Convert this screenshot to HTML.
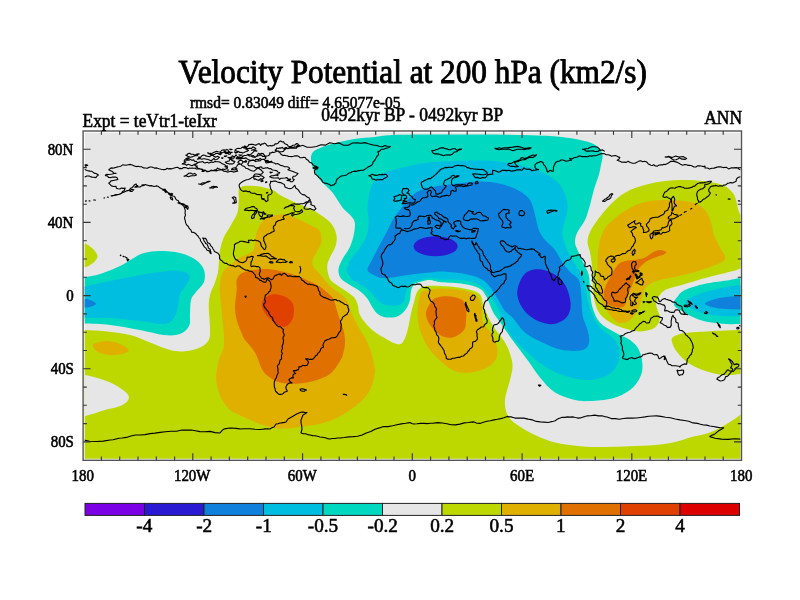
<!DOCTYPE html>
<html><head><meta charset="utf-8"><title>Velocity Potential at 200 hPa</title>
<style>html,body{margin:0;padding:0;background:#fff;width:800px;height:600px;overflow:hidden}svg{display:block}</style>
</head><body>
<svg width="800" height="600" viewBox="0 0 800 600">
<defs><clipPath id="m"><rect x="84.7" y="132.7" width="655.7" height="326.1"/></clipPath></defs>
<g clip-path="url(#m)">
<rect x="84" y="132" width="658" height="328" fill="#e6e6e6"/>
<path d="M240 187.5C242.7 185.2 249.6 185.6 255 186C260.4 186.4 268.3 188.5 272.5 190C276.7 191.5 276.2 192.9 280 195C283.8 197.1 289.6 200 295 202.5C300.4 205 307.1 207.1 312.5 210C317.9 212.9 323.9 217 327.5 220C331.1 223 332.5 225.1 334 228C335.5 230.9 336.5 234.2 336.7 237.3C336.9 240.4 336.4 243.4 335.3 246.7C334.2 250 331.3 254.2 330 257.3C328.7 260.4 327.6 262.6 327.3 265.3C327 268 327.4 270.8 328 273.3C328.6 275.8 329.2 278.3 331 280.5C332.8 282.7 336.2 284.5 339 286.5C341.8 288.5 345.3 290.5 348 292.5C350.7 294.5 353.3 296.2 355 298.5C356.7 300.8 357.2 303.4 358 306C358.8 308.6 358.3 311.2 359.5 314C360.7 316.8 362.6 319.6 365 322.5C367.4 325.4 370.6 328.8 373.8 331.2C376.9 333.8 380.6 335.6 383.8 337.5C386.9 339.4 390 341.4 392.5 342.5C395 343.6 397.1 344.4 398.8 344.4C400.4 344.4 401.2 344.1 402.5 342.5C403.8 340.9 405.2 337.9 406.2 335C407.3 332.1 407.9 328.8 408.8 325C409.6 321.2 410.4 316.3 411.2 312.5C412.1 308.7 413 305.5 414 302C415 298.5 415.7 293.9 417.5 291.2C419.3 288.6 421 287.1 425 286.2C429 285.4 434.8 285.6 441.2 286C447.7 286.4 457.4 287.1 463.8 288.4C470.1 289.7 476.1 290.8 479.5 294C482.9 297.2 481.8 302.3 484 307.5C486.2 312.7 489 319.2 492.5 325C496 330.8 501.9 337.2 505 342.5C508.1 347.8 509.8 352.8 511 357C512.2 361.2 512.7 363.7 512.5 367.5C512.3 371.3 511.2 374.6 510 380C508.8 385.4 505.4 394.2 505 400C504.6 405.8 505.4 410.8 507.5 415C509.6 419.2 512.9 421.7 517.5 425C522.1 428.3 528.8 432.1 535 435C541.2 437.9 547.5 440.6 555 442.5C562.5 444.4 571.7 445.5 580 446.2C588.3 447 596.7 447 605 447C613.3 447 621.7 446.6 630 446.2C638.3 445.9 647.5 445.7 655 445C662.5 444.3 669.2 443.2 675 442C680.8 440.8 684.2 439.1 690 437.5C695.8 435.9 704.2 434.6 710 432.5C715.8 430.4 720.8 427.3 725 425C729.2 422.7 731.7 420.9 735 418.8C738.3 416.6 740.8 413.1 745 412L760 412L760 470L70 470L70 330L83.8 330C89.6 330.2 97.3 330.4 105 331.2C112.7 332.1 122.5 333.1 130 335C137.5 336.9 143.3 340 150 342.5C156.7 345 164.2 348.5 170 350C175.8 351.5 180 351.7 185 351.2C190 350.8 196 349.4 200 347.5C204 345.6 207.1 343.3 208.8 340C210.4 336.7 210 332.9 210 327.5C210 322.1 208.8 312.9 208.8 307.5C208.8 302.1 209 299.2 210 295C211 290.8 213.7 286.3 215 282.5C216.3 278.7 217.3 275.8 218 272C218.7 268.2 218.7 263.7 219 260C219.3 256.3 219.2 253.8 220 250C220.8 246.2 221.9 241.7 223.8 237.5C225.6 233.3 228.7 229.2 231 225C233.3 220.8 236.2 216.7 237.5 212.5C238.8 208.3 238.3 204.2 238.8 200C239.2 195.8 237.3 189.8 240 187.5Z" fill="#bcd800"/>
<path d="M70 240L83 242.5C86.7 243.8 89.6 245.8 92 248C94.4 250.2 97.3 253.5 97.5 256C97.7 258.5 95.4 261 93 263C90.6 265 86.8 267 83 268L70 269L70 240Z" fill="#bcd800"/>
<path d="M630 190C637.1 186.7 646.7 184.2 655 182.5C663.3 180.8 671.7 180.2 680 180C688.3 179.8 697.9 180.4 705 181.2C712.1 182.1 717.9 183.1 722.5 185C727.1 186.9 730.2 190 732.5 192.5C734.8 195 734.9 196.8 736 200C737.1 203.2 737.5 208.3 739 212C740.5 215.7 743.5 217.3 745 222C746.5 226.7 747.5 233.3 748 240C748.5 246.7 749.2 257.3 748 262C746.8 266.7 744 266.7 741 268.3C738 269.9 734 270.6 730 271.7C726 272.8 720.9 273.9 716.7 275C712.5 276.1 709.5 276.8 705 278C700.5 279.2 694.2 281.2 690 282.5C685.8 283.8 683.9 284.4 680 285.5C676.1 286.6 670 287.8 666.7 289.3C663.4 290.8 661.7 292.5 660 294.7C658.3 296.9 656.7 299.9 656.2 302.5C655.8 305.1 656.9 307.4 657.5 310C658.1 312.6 660.4 315.1 660 318C659.6 320.9 657.9 325.3 655 327.5C652.1 329.7 646.7 330.8 642.5 331.2C638.3 331.7 635 331.2 630 330C625 328.8 617.5 326.4 612.5 323.8C607.5 321.1 602.9 317.5 600 314C597.1 310.5 596.2 306.5 595 302.5C593.8 298.5 593.4 294.2 593 290C592.6 285.8 592.7 281.7 592.5 277.5C592.3 273.3 592.3 269.2 591.9 265C591.5 260.8 590.7 256.3 590 252.5C589.3 248.7 587.5 245.4 587.5 242C587.5 238.6 588.3 235.7 590 232C591.7 228.3 593.8 224.9 597.5 220C601.2 215.1 607.1 207.5 612.5 202.5C617.9 197.5 622.9 193.3 630 190Z" fill="#bcd800"/>
<path d="M672.5 337.5C674.5 335.5 678.8 334 685 333C691.2 332 700.6 331.8 710 331.2C719.4 330.8 733.2 330.2 741.5 330L760 330L760 374L741.5 374C735.2 374.2 729 375.7 722.5 375C716 374.3 708.3 372.1 702.5 370C696.7 367.9 691.7 365.4 687.5 362.5C683.3 359.6 679.9 355.4 677.5 352.5C675.1 349.6 673.8 347.5 673 345C672.2 342.5 670.5 339.5 672.5 337.5Z" fill="#bcd800"/>
<path d="M272.5 215.6C276 214.7 280.4 213.7 285 214.4C289.6 215.1 295.5 218.1 300 220C304.5 221.9 309 224.5 312 226C315 227.5 316.6 227.8 318 229C319.4 230.2 320.1 231 320.7 233.3C321.2 235.6 322 239.6 321.3 242.7C320.6 245.8 318.1 249.1 316.7 252C315.3 254.9 313.3 257.6 312.7 260C312.1 262.4 312.2 264.5 313.3 266.7C314.4 268.9 316.5 270.1 319.3 273.3C322.1 276.5 326.6 282.6 330 286C333.4 289.4 337.2 291.2 340 293.5C342.8 295.8 345 296.8 346.9 300C348.8 303.2 349.3 307.9 351.2 312.5C353.2 317.1 356.2 322.9 358.8 327.5C361.2 332.1 364.2 335.8 366.2 340C368.3 344.2 370 348.8 371.2 352.5C372.5 356.2 372.9 358.7 373.5 362C374.1 365.3 375.6 367.8 375 372.5C374.4 377.2 372.5 385 370 390C367.5 395 364.6 398.3 360 402.5C355.4 406.7 348.3 411.7 342.5 415C336.7 418.3 331.2 420.6 325 422.5C318.8 424.4 312.5 425.2 305 426.2C297.5 427.3 287.1 429 280 428.8C272.9 428.5 268.3 426.9 262.5 425C256.7 423.1 250.4 420 245 417.5C239.6 415 234 413.2 230 410C226 406.8 223.2 402.2 221 398C218.8 393.8 217.8 388.8 217 385C216.2 381.2 216 379.2 216.2 375C216.5 370.8 217.5 365 218.8 360C220 355 223.4 351.7 224 345C224.6 338.3 223.2 328.3 222.5 320C221.8 311.7 220.4 301.2 220 295C219.6 288.8 219.5 286.3 220 282.5C220.5 278.7 221.3 274.9 223 272C224.7 269.1 227.2 267.4 230 265C232.8 262.6 236.2 259.8 240 257.5C243.8 255.2 250.5 253.9 253 251C255.5 248.1 254.2 243.5 255 240C255.8 236.5 256 233.3 257.5 230C259 226.7 261.2 222.4 263.8 220C266.2 217.6 269 216.5 272.5 215.6Z" fill="#e0b000"/>
<path d="M92.5 345C92.8 343.3 97.1 342.6 100 342C102.9 341.4 106.7 340.9 110 341.2C113.3 341.6 116.9 342.5 120 344C123.1 345.5 128.4 348.3 128.8 350C129.1 351.7 125.1 353.2 122 354C118.9 354.8 114 355.3 110 355C106 354.7 100.9 353.7 98 352C95.1 350.3 92.2 346.7 92.5 345Z" fill="#e0b000"/>
<path d="M420 295C421.3 290.9 422 291.7 425.5 290.6C429 289.5 434.9 288.4 441.2 288.4C447.6 288.4 457.8 289.3 463.8 290.6C469.8 291.9 474.2 293.4 477.2 296.2C480.2 299.1 480.8 303.2 481.8 307.5C482.7 311.8 481.2 317.4 483 322C484.8 326.6 490.1 330.3 492.5 335C494.9 339.7 497.2 345.5 497.5 350C497.8 354.5 496.9 358.6 494 362C491.1 365.4 485.7 368.8 480 370.5C474.3 372.2 465.8 373.4 460 372.5C454.2 371.6 450 368.8 445 365C440 361.2 434 355.3 430 350C426 344.7 423.1 338.8 421 333C418.9 327.2 417.7 321.3 417.5 315C417.3 308.7 418.7 299.1 420 295Z" fill="#e0b000"/>
<path d="M622.5 212.5C627.9 209.2 635 204.6 642.5 202.5C650 200.4 659.2 200 667.5 200C675.8 200 686.2 200.8 692.5 202.5C698.8 204.2 701.9 206.7 705 210C708.1 213.3 709.5 218.3 711 222.5C712.5 226.7 712.5 230.8 714 235C715.5 239.2 718.1 243.7 720 247.5C721.9 251.3 725.3 255.1 725.3 257.7C725.3 260.3 722.5 261.4 720 263C717.5 264.6 714.2 265.5 710 267C705.8 268.5 700.4 270.5 695 272C689.6 273.5 682.5 275.1 677.5 276.2C672.5 277.4 669.2 277.7 665 278.8C660.8 279.8 655.8 280.8 652.5 282.5C649.2 284.2 646.7 286.5 645 288.8C643.3 291 643.3 293.8 642.5 296.2C641.7 298.8 640.8 301.5 640 303.8C639.2 306 639.2 307.3 637.5 310C635.8 312.7 633.2 317.9 630 320C626.8 322.1 622 324.2 618 322.5C614 320.8 609 313.8 606.2 310C603.5 306.2 602.5 303.3 601.2 300C600 296.7 599.4 293.8 598.8 290C598.1 286.2 597.7 281.7 597.5 277.5C597.3 273.3 597.4 269.2 597.5 265C597.6 260.8 597.6 256.7 598 252.5C598.4 248.3 599 243.8 600 240C601 236.2 602.3 232.9 604 230C605.7 227.1 606.9 225.4 610 222.5C613.1 219.6 617.1 215.8 622.5 212.5Z" fill="#e0b000"/>
<path d="M236.7 280C237.5 277.2 238.9 275 241.7 273.3C244.5 271.6 248.6 270.7 253.3 270C258 269.3 265 268.9 270 269.2C275 269.5 279.1 270.7 283.3 271.7C287.5 272.7 291.1 273.6 295 275C298.9 276.4 302.5 278.1 306.7 280C310.9 281.9 316.1 284.2 320 286.7C323.9 289.2 327.7 292.8 330 295C332.3 297.2 332.3 296.5 333.8 300C335.2 303.5 337.1 311 338.8 316.2C340.4 321.5 342.7 326.7 343.8 331.2C344.8 335.8 345.1 340 345 343.8C344.9 347.5 343.8 351 343.1 353.8C342.4 356.5 342.8 356.6 340.6 360C338.4 363.4 334.7 370.5 330 374C325.3 377.5 318.3 379.6 312.5 381.2C306.7 382.9 300.4 383.5 295 383.8C289.6 384 284.2 383.5 280 382.5C275.8 381.5 272.9 379.6 270 377.5C267.1 375.4 265 374.2 262.5 370C260 365.8 257.9 357.5 255 352.5C252.1 347.5 247.2 343.2 245 340C242.8 336.8 243.1 336.6 241.7 333.3C240.3 330 237.8 324.4 236.7 320C235.6 315.6 235 311.7 235 306.7C235 301.7 236.4 294.4 236.7 290C237 285.6 235.9 282.8 236.7 280Z" fill="#e07000"/>
<path d="M427.8 307.5C429.2 304.8 431.1 300.4 434.5 298.5C437.9 296.6 443.5 296.1 448 296.2C452.5 296.4 458.5 297.7 461.5 299.6C464.5 301.5 465.2 304.1 466 307.5C466.8 310.9 466.3 316.2 466 320C465.7 323.8 466.2 327.1 464 330C461.8 332.9 456.5 336.7 452.5 337.5C448.5 338.3 443.8 337.1 440 335C436.2 332.9 432.3 328.3 430 325C427.7 321.7 426.4 317.9 426 315C425.6 312.1 426.3 310.2 427.8 307.5Z" fill="#e07000"/>
<path d="M666.2 251.9C665.6 251.2 662.3 249.9 660 250C657.7 250.1 655 251.2 652.5 252.5C650 253.8 647.5 256.4 645 257.5C642.5 258.6 640.4 258.9 637.5 259.4C634.6 259.9 630.4 260 627.5 260.6C624.6 261.2 622.1 261.7 620 263.1C617.9 264.5 616.7 266.4 615 268.8C613.3 271.1 611.7 274.4 610 277.5C608.3 280.6 606 284.6 605 287.5C604 290.4 603.5 292.5 603.8 295C604 297.5 604.8 300.6 606.2 302.5C607.7 304.4 610.2 305.4 612.5 306.2C614.8 307.1 617.9 307.7 620 307.5C622.1 307.3 623.8 306.9 625 305C626.2 303.1 626.5 299.2 627.5 296.2C628.5 293.3 630 290.6 631.2 287.5C632.5 284.4 633.8 280.6 635 277.5C636.2 274.4 637.1 271.2 638.8 268.8C640.4 266.2 642.3 264.4 645 262.5C647.7 260.6 651.9 258.9 655 257.5C658.1 256.1 661.9 255.3 663.8 254.4C665.6 253.5 666.9 252.6 666.2 251.9Z" fill="#e07000"/>
<path d="M261.7 303.3C262 300.5 264.5 298.2 266.7 296.7C268.9 295.2 271.7 294.1 275 294.2C278.3 294.3 283.6 295.7 286.7 297.5C289.8 299.3 292.2 301.8 293.3 305C294.4 308.2 294.1 313.4 293.3 316.7C292.5 320 290.2 323.3 288.3 325C286.4 326.7 284.2 327.2 281.7 326.7C279.2 326.1 276.1 323.9 273.3 321.7C270.5 319.5 266.9 316.4 265 313.3C263.1 310.2 261.4 306.1 261.7 303.3Z" fill="#e04000"/>
<path d="M337.5 142.5C343.1 141.1 349.8 139.7 356 138.8C362.2 137.8 367.7 137.6 375 136.9C382.3 136.2 382.1 135.2 400 134.8C417.9 134.4 459.6 134.5 482.5 134.6C505.4 134.7 523.8 135 537.5 135.5C551.2 136 556.8 136.4 565 137.4C573.2 138.4 581.5 139.9 587 141.5C592.5 143.1 595.4 144.8 598 147C600.6 149.2 602 152 602.5 155C603 158 601.6 161.7 601 165C600.4 168.3 600 170.8 598.8 175C597.5 179.2 595.2 185 593.8 190C592.3 195 591.5 200 590 205C588.5 210 587.2 215.3 585 220C582.8 224.7 578.7 229.2 577 233C575.3 236.8 574.9 239.7 575 242.5C575.1 245.3 576.2 246.8 577.5 250C578.8 253.2 581.1 257.8 583 262C584.9 266.2 587.6 270.3 588.8 275C589.9 279.7 589.4 284.6 590 290C590.6 295.4 590.8 302.1 592.5 307.5C594.2 312.9 596.2 318.3 600 322.5C603.8 326.7 610 329.6 615 332.5C620 335.4 626 337.1 630 340C634 342.9 636.9 345.8 639 350C641.1 354.2 642.3 360.4 642.5 365C642.7 369.6 642.1 373.3 640 377.5C637.9 381.7 634.7 386.5 630 390C625.3 393.5 618.7 396.7 612 398.5C605.3 400.3 596.2 400.8 590 401C583.8 401.2 580.8 401.4 575 400C569.2 398.6 560.8 396.2 555 392.5C549.2 388.8 544.6 382.9 540 377.5C535.4 372.1 532.1 366.2 527.5 360C522.9 353.8 517.1 346.3 512.5 340C507.9 333.7 503.2 326.7 500 322C496.8 317.3 495.3 316.3 493 312C490.7 307.7 488.5 300.2 486.2 296.2C484 292.3 483.2 290.5 479.5 288.4C475.8 286.3 470.1 284.9 463.8 283.9C457.4 282.9 446.9 282.9 441.2 282.3C435.6 281.7 433.1 280.2 430 280C426.9 279.8 425 280.6 422.5 281.2C420 281.9 416.9 282.3 415 283.8C413.1 285.2 412.1 287.3 411.2 290C410.4 292.7 410.8 296.9 410 300C409.2 303.1 407.9 306.2 406.2 308.8C404.6 311.2 402.3 313.5 400 315C397.7 316.5 395.2 317.2 392.5 317.5C389.8 317.8 386.2 317.5 383.8 316.9C381.2 316.3 379.4 315.3 377.5 313.8C375.6 312.2 374.2 310 372.5 307.5C370.8 305 369.6 301.5 367.5 298.8C365.4 296 362.9 293.5 360 291.2C357.1 289 353.1 287.1 350 285C346.9 282.9 343.2 281.2 341.2 278.8C339.3 276.2 338.3 273.1 338.4 270C338.5 266.9 340.1 263.9 342 260C343.9 256.1 348 251.1 350 246.7C352 242.2 353.3 237.8 354 233.3C354.7 228.9 355.9 224.3 354 220C352.1 215.7 346.1 212.1 342.5 207.5C338.9 202.9 336.2 197.1 332.5 192.5C328.8 187.9 323.1 183.8 320 180C316.9 176.2 315.2 173.3 313.8 170C312.2 166.7 311.1 163 311 160C310.9 157 311.1 154.2 313 152C314.9 149.8 318.4 148.6 322.5 147C326.6 145.4 331.9 143.9 337.5 142.5Z" fill="#00d8c0"/>
<path d="M70 277.5L83 277.5C88 276.9 93.8 275.9 100 274C106.2 272.1 114.7 268.5 120 266C125.3 263.5 128 261.2 132 259C136 256.8 139.3 254.3 144 253C148.7 251.7 154 251 160 251C166 251 174 251.5 180 253C186 254.5 192 257.2 196 260C200 262.8 202.7 266.3 204 270C205.3 273.7 205.3 278.3 204 282C202.7 285.7 198.2 289 196 292C193.8 295 192 296.3 191 300C190 303.7 190.3 309.7 190 314C189.7 318.3 190.7 322.7 189 326C187.3 329.3 184.2 332.5 180 334C175.8 335.5 170.7 335.7 164 335C157.3 334.3 149 331.7 140 330C131 328.3 119.5 326.1 110 325C100.5 323.9 89.7 323.8 83 323.5L70 323.5L70 277.5Z" fill="#00d8c0"/>
<path d="M673.8 303.8C673.4 301.4 676.1 298.3 678 296C679.9 293.7 680.5 292 685 290C689.5 288 697.5 285.4 705 283.8C712.5 282.1 723.9 281 730 280C736.1 279 736.5 278.3 741.5 278L760 278L760 324L741.5 324C735.2 324 729.4 324.4 722.5 323.8C715.6 323.1 707.1 322.3 700 320C692.9 317.7 684.4 312.7 680 310C675.6 307.3 674.1 306.1 673.8 303.8Z" fill="#00d8c0"/>
<path d="M480 160.5C492.5 160.5 496.7 161.3 505 162.5C513.3 163.7 522.9 165.4 530 167.5C537.1 169.6 542.5 172.1 547.5 175C552.5 177.9 556.9 181.2 560 185C563.1 188.8 564.8 193.3 566 197.5C567.2 201.7 567.9 205.4 567.5 210C567.1 214.6 564.6 220.8 563.8 225C562.9 229.2 562.1 231.2 562.5 235C562.9 238.8 564.3 243.3 566 247.5C567.7 251.7 570.2 255.9 572.5 260C574.8 264.1 577.9 268.2 580 272C582.1 275.8 583.8 277.8 585 282.5C586.2 287.2 586.2 294.6 587.5 300C588.8 305.4 590.4 310.4 592.5 315C594.6 319.6 596.7 323.8 600 327.5C603.3 331.2 609.4 334.2 612.5 337.5C615.6 340.8 617.8 343.3 618.8 347.5C619.7 351.7 619.8 357.9 618 362.5C616.2 367.1 613.1 372.1 608 375C602.9 377.9 595.1 380 587.5 380C579.9 380 570 377.5 562.5 375C555 372.5 548.3 368.8 542.5 365C536.7 361.2 532.5 357.1 527.5 352.5C522.5 347.9 516.7 342.9 512.5 337.5C508.3 332.1 505 325 502.5 320C500 315 499.8 311.8 497.5 307.5C495.2 303.2 491.5 297.8 488.5 294C485.5 290.2 483.6 287.2 479.5 285C475.4 282.8 470.1 281.4 463.8 280.5C457.4 279.6 446.9 279.8 441.2 279.4C435.6 279 433.1 278.1 430 278.1C426.9 278.1 425.4 278.7 422.5 279.4C419.6 280.1 415 281.1 412.5 282.5C410 283.9 408.6 285.6 407.5 287.5C406.4 289.4 406.2 291.5 405.6 293.8C405 296 404.9 299.4 403.8 301.2C402.6 303.1 401 304.3 398.8 305C396.5 305.7 392.7 305.8 390 305.6C387.3 305.4 384.8 304.9 382.5 303.8C380.2 302.6 378.3 300.8 376.2 298.8C374.2 296.7 372.5 293.5 370 291.2C367.5 289 364.4 287.1 361.2 285C358.1 282.9 353.5 280.8 351.2 278.8C349 276.7 348.2 274.3 347.5 272.5C346.8 270.7 346.4 270.3 347 268C347.6 265.7 349 262.2 351.3 258.7C353.6 255.1 358 250.9 360.7 246.7C363.4 242.5 366 237.8 367.3 233.3C368.6 228.9 368.7 224.3 368.7 220C368.7 215.7 367.1 212.9 367.5 207.5C367.9 202.1 368.9 192.9 371 187.5C373.1 182.1 375.6 178.1 380 175C384.4 171.9 389.2 170.8 397.5 168.8C405.8 166.7 416.2 163.9 430 162.5C443.8 161.1 467.5 160.5 480 160.5Z" fill="#00bedf"/>
<path d="M70 287L83 287C88 286.3 93.8 284.3 100 283C106.2 281.7 113.3 280.3 120 279C126.7 277.7 133.3 276.2 140 275C146.7 273.8 153.3 272.7 160 272C166.7 271.3 175.2 270.5 180 271C184.8 271.5 187.7 273.2 189 275C190.3 276.8 189.5 278.8 188 282C186.5 285.2 181.7 290 180 294C178.3 298 179 302 178 306C177 310 176.3 315 174 318C171.7 321 169.7 323.5 164 324C158.3 324.5 149 322 140 321C131 320 119.5 318.5 110 318C100.5 317.5 89.7 318 83 318L70 318L70 287Z" fill="#00bedf"/>
<path d="M685 302.5C685 299.4 693.6 296.2 700 293.8C706.4 291.3 716.4 289.1 723.3 287.7C730.2 286.3 735.4 285.7 741.5 285.3L760 285.3L760 316L741.5 316C735.2 316 729.4 316.6 722.5 316C715.6 315.4 706.2 314.8 700 312.5C693.8 310.2 685 305.6 685 302.5Z" fill="#00bedf"/>
<path d="M480 181.5C487.5 181.5 493.8 182.3 500 183.8C506.2 185.2 512.5 187.3 517.5 190C522.5 192.7 527.1 195.8 530 200C532.9 204.2 533.5 210 535 215C536.5 220 537.1 225.8 538.8 230C540.4 234.2 542.3 236.7 545 240C547.7 243.3 552.1 246.2 555 250C557.9 253.8 560 258.8 562.5 262.5C565 266.2 567.3 269.1 570 272C572.7 274.9 576.9 276.2 578.8 280C580.6 283.8 580.6 289.2 581.2 295C581.9 300.8 581.5 309.2 582.5 315C583.5 320.8 586.4 325.4 587.5 330C588.6 334.6 589.8 339.2 589 342.5C588.2 345.8 586.9 348.8 582.5 350C578.1 351.2 569.2 351.2 562.5 350C555.8 348.8 548.8 345.4 542.5 342.5C536.2 339.6 530 336.7 525 332.5C520 328.3 516 321.2 512.5 317.5C509 313.8 506.8 313.2 504.2 310C501.8 306.8 500.1 302.7 497.5 298.5C494.9 294.3 491.5 288.4 488.5 285C485.5 281.6 483.6 280.1 479.5 278.2C475.4 276.4 470.1 274.9 463.8 273.8C457.4 272.6 446.9 271.7 441.2 271.5C435.6 271.3 434 272.1 430 272.5C426 272.9 421.7 273.2 417.5 273.8C413.3 274.3 409.2 275 405 275.6C400.8 276.2 396.2 277.1 392.5 277.5C388.8 277.9 385.6 278.5 382.5 278.1C379.4 277.7 376.2 276.4 373.8 275C371.2 273.6 367.9 272.3 367.5 270C367.1 267.7 369.8 264.5 371.3 261.3C372.8 258.1 374.2 255.4 376.7 250.7C379.1 246 383.3 238.4 386 233.3C388.7 228.2 390.4 223.9 392.7 220C395 216.1 397.1 213.8 400 210C402.9 206.2 405.8 201 410 197.5C414.2 194 417.5 191 425 188.8C432.5 186.5 445.8 185 455 183.8C464.2 182.5 472.5 181.5 480 181.5Z" fill="#0f80dc"/>
<path d="M70 298.8L83 298.8C86.3 299 87.8 299.2 90 300C92.2 300.8 96 302.6 96 303.8C96 304.9 92.2 306.4 90 307C87.8 307.6 86.3 307.4 83 307.5L70 307.5L70 298.8Z" fill="#0f80dc"/>
<path d="M705 303.8C705 302.6 709.1 301 712 300C714.9 299 717.6 298.2 722.5 297.5C727.4 296.8 735.2 296.2 741.5 296L760 296L760 309.5L741.5 309.5C735.2 309.4 727.4 309.2 722.5 308.8C717.6 308.3 714.9 307.8 712 307C709.1 306.2 705 304.9 705 303.8Z" fill="#0f80dc"/>
<path d="M535.3 269.3C538.6 268.9 542.1 269.3 545.8 270.5C549.5 271.7 554.2 273.8 557.5 276.3C560.8 278.8 563.6 282.2 565.6 285.7C567.6 289.2 568.9 293.4 569.7 297.3C570.5 301.2 571 305.5 570.3 309C569.6 312.5 568.3 315.8 565.6 318.3C562.9 320.8 558.3 323.5 554 324.1C549.7 324.7 544.3 323.4 540 321.8C535.7 320.2 531.6 317.7 528.3 314.8C525 311.9 522.1 308 520.2 304.3C518.4 300.6 517.2 296.6 517.2 292.7C517.2 288.8 518.7 284.3 520.2 281C521.7 277.7 523.5 274.8 526 272.8C528.5 270.9 532 269.7 535.3 269.3Z" fill="#2a1ad2"/>
<ellipse cx="435.6" cy="246.3" rx="22" ry="10" fill="#2a1ad2"/>
<path d="M70 375L83.8 375C88.8 375.6 94.4 376.9 100 378.8C105.6 380.6 112.7 383.3 117.5 386.2C122.3 389.2 127.9 393.1 128.8 396.2C129.6 399.4 126.5 402.7 122.5 405C118.5 407.3 111.5 408.1 105 410C98.5 411.9 89.6 415.2 83.8 416.2L70 416.2L70 375Z" fill="#e6e6e6"/>
<path d="M262.3 198.5L264.2 198.7L263.3 199.2L262.3 198.5M110.9 195.7L113.3 195.6M106.9 197L108.7 197.4M103.6 198.1L105 197.8M93.2 200L94.6 200L95.9 200.3M88.6 200.7L90.4 201.1M84.9 201.1L86.8 200.9M737.9 200.9L739.3 200.8L740.6 201.4M727.8 198.9L729.2 199.1L730.6 199M105 175.4L106.7 174.4L108.7 174.5L110.5 174.3L112.4 174L114.2 173.5L116 173.4L113.9 173.1L112.4 171.6L110.5 170.7L108.7 169.8L109.9 168.8L111.1 167.9L112.7 168.1L114.2 167.9L115.5 167.5L116.9 167.1L118.3 166.8L119.7 166.5L121.3 165.9L122.7 164.9L124.4 165L126.1 165.2L128.2 164.8L130.3 164.4L132.3 165.1L134.3 165.9L136.1 166.6L138 166.2L139.8 166.8L141.6 166.8L143.3 167.9L145.2 168L147.2 168.3L148.9 167.4L150.3 167L151.8 167L153.1 167.6L154.4 168.1L156.8 167.9L159 168.7L161.2 169.3L163.6 169.6L165.6 169.5L167.2 168.3L168.6 168.9L170 168.6L171.4 168.9L172.7 168.5L175 167.7L177.3 167.2L178.5 167.7L179.3 168.7L180.6 168.4L181.9 168.7L183.5 167.5L185.5 167.6L186.9 168.1L188.2 168.7L189.5 168L191 168.3L192.4 168L193.8 168.3L195.3 168.2L196.5 169L198.2 169L199.8 168.6L201.2 169.5L202.9 169.8L202 171.4L203.5 171.5L204.8 170.8L206.2 170.8L207.5 171.6L209.1 171.4L210.6 170.6L212.2 170.7L213.9 170.5L216.2 170.9L218.4 170.3L220.3 169.7L222.2 170L223.8 171.2L225.8 171.4L227.3 172.1L229 171.7L230.6 171.3L232.2 171.6L233.5 172.1L234.9 171.7L236.3 171.4L237.7 171.2L236.6 169.5L235.8 167.6L236.8 166.2L237.7 164.8L239.7 163.9L241.2 164.4L242.2 165.8L244.5 166.5L245.9 168.3L247.9 168.7L249.5 169.8L251.7 170.8L254.1 171.2L255.9 169.6L257.8 168.1L259.7 169L261.4 170.3L262.3 171.3L263.3 172.2L262.4 173.2L261.4 174.2L259.2 174.4L257 174L255 174L253.8 175.3L253.2 177.1L251.7 177.6L250.5 178.6L248.6 179.5L246.6 179.7L244.8 180.4L243.1 181.3L241.7 182.2L240.4 183.1L239.4 184.3L239.1 185.9L239.8 188.2L241.2 190.1L243.1 191.4L244.7 191.1L246.3 190.9L247.9 191.7L249.5 191.4L250.6 192.7L252.3 193.2L254.7 193.2L256.9 194.5L259.3 194.6L261.8 195L261.4 196.9L261.8 198.9L264.2 199.6L265.4 200.5L266 201.8L268 200.5L267.9 198.2L267.8 195.9L269 194.7L270.6 194.5L271.5 193.5L272.2 192.3L271.7 190.3L270.6 188.6L270.2 186.5L269.7 184.4L270.5 183L270.6 181.3L272.2 181.6L273.8 181.1L275.5 181L277 181.7L278.7 182.4L280.6 182.6L282.4 183.6L284.3 184.4L284.7 185.8L285.2 187.2L286.6 187.7L287.9 188.2L289.8 188.8L291.9 188.2L293.4 186.8L294.7 185.3L295.3 186.6L295.7 188L296.8 188.8L298 189.5L298.9 190.9L299.8 192.3L301.1 193.6L302.6 194.6L304.7 194.9L306.2 196.3L307.5 197.2L309 197.8L309.6 199L310.4 200.1L309 200.4L308.1 201.6L306 202L304.4 203.2L302.6 203.8L300.8 203.8L299.2 204.1L297.6 204.1L295.9 204.3L294.3 203.8L292 204.3L289.8 205.4L288.2 206.8L286.1 206.9L284.3 208.4L286.1 207.3L287.9 206.4L289.7 205.6L291.6 205.6L293.3 205.6L294.7 206.4L293.4 208.2L294.3 209.2L294.3 210.6L295.6 211.5L297.1 211.8L298.5 211.5L299.8 211.8L300.6 210.6L301.7 209.6L302.6 211.7L300.8 212.9L299 213.7L297.1 214.2L295.8 214.5L294.6 214.5L293.4 215.1L292.5 216L291.6 215.1L292.6 213.5L294.3 212.8L293 212.9L291.6 212.9L289.8 213.7L287.9 214.4L285.9 215L283.9 215.7L283 217.5L284.3 218.8L283.4 219.5L281.9 219.5L280.6 220.3L278.7 220.5L277 221.5L275.9 222.5L275.5 223.9L275.1 225.2L273.5 226.3L273.3 227.9L274 229.4L274.2 231L272.9 231.8L271.5 232.3L270.2 233.2L268.7 233.8L267.1 234.3L266 235.6L264.3 236.4L263.4 238L263.9 239.3L263.6 240.7L264.6 242L264.9 243.5L265.8 245L266 246.8L265.3 249.2L264.2 249.5L262.7 247.7L261.7 246.7L261.1 245.3L260.8 243.9L260.5 242.6L259.4 241.6L258.1 240.7L256.5 240.6L255 240L253.2 240.7L251.4 240L249.9 240.3L248.4 240.4L249 242.6L247.4 242.4L245.9 242L244.1 241.6L242.2 241.3L240.2 241.2L238.6 242.4L236.3 243.3L234.4 244.8L234.5 247.1L234.3 248.5L234 249.9L233.5 252.1L233.4 254.5L234 256.3L234.7 258L235.8 259.6L237.5 260.1L238.6 261.4L240.4 262.3L242.7 262.7L244.8 261.8L246 260.8L246.8 259.4L247.2 257L249.4 257.2L251.4 256.3L253.4 256.8L252.5 258.3L252.3 259.9L251.7 261.1L251 262.1L251 263.9L250.8 265.6L251.4 266.7L253.1 266L255 266.3L256.4 266.6L257.8 266.5L259.2 267L260.1 268.2L260 269.1L260.3 271.5L259.2 273.7L259.6 275.9L260.8 276.9L261.4 278.2L263 278.5L264.2 279.5L265.5 278.6L266.9 278.1L268.4 277.9L269.7 278.6L271.5 279.7L273.3 278.6L274.2 276.4L275.4 275.3L277 275.1L278.7 274.1L280.6 274L281.5 275.5L282.6 274L284.3 273.3L286.3 274.7L287.9 276.4L289.7 275.7L291.6 276.2L293.4 276.8L295.3 276.4L297.3 276.6L299.3 276.4L300.9 277.9L301.7 280.1L303.7 281.1L305.3 282.8L306.8 283.6L308.1 284.6L309.4 284.1L310.8 284.6L312.2 284.8L313.6 285L314.9 285.5L316.3 286L317.6 286.8L318.1 288.3L318.5 290.5L320 292.3L319.8 294.1L320.9 295.6L322.3 296.5L323.6 297.4L325.8 297.9L327.7 298.8L329.7 299.7L331.8 300.2L333.3 299.9L334.7 299.6L336.2 299.8L337.3 300.7L339.3 300.8L341 302L342.9 302.9L344.6 304.2L346.4 304.7L347.9 305.7L347.9 307.6L348.7 309.3L348.8 310.7L348.3 312.1L347.3 313.1L347.1 314.5L345.8 314.9L344.6 315.7L342.7 317.1L341.9 319.4L341 320.3L340.4 321.9L340.9 323.5L341.4 325.1L341 326.7L341.1 328.2L340.8 329.7L340.4 331.2L339.2 332.2L338.2 334L337.3 335.8L335.6 337.4L333.3 337.7L331.7 337.8L330.3 338.5L328.9 339.3L327.3 339.5L326.2 340.4L324.8 340.7L324.3 342L323.6 343.2L323 345.2L323.4 347.2L322 347.7L320.9 348.7L320.3 350.6L319 352.3L317.7 353.4L317.1 355L315.6 355.8L314.7 357.2L313.5 358.7L311.9 359.4L309.5 359.4L307.6 358.7L305.5 358.7L307.5 360.2L308.6 362.4L307.8 363.8L307.2 365.3L305 365.7L302.9 365.3L301.1 366.6L298.9 366.9L298.8 368.4L298.4 369.9L297 369.9L296 370.7L294.7 370.6L293.4 370.6L294.2 372.3L295.6 373.5L293.4 374.3L292.8 376.1L293.4 377.9L291.5 377.9L289.8 378.8L288.9 379.7L290.1 381.7L292 383L290.2 382.8L288.5 383.4L286.9 385L285.9 387.1L286.1 388.9L286.9 390L287.2 391.3L285.7 391.7L284.3 392.2L283.5 393.2L282.5 394L280.6 394.4L278.5 394.1L277 392.5L275.4 391L275.1 388.9L274.3 386.7L274.2 384.3L274.3 382L275.1 379.7L276.4 377.6L277 375.2L278.2 373L277.9 370.6L278 369.2L277.8 367.9L277.4 366.5L277.9 365.1L279.4 363.6L279.7 361.5L280.2 359.9L281.5 359L281.6 357.5L281.4 356L281.8 354.6L282.4 353.3L281.5 352L281.5 350.5L282.5 348.5L282.1 346.3L282.9 344.3L283.4 342.2L283.6 340.6L283.1 339L283.1 337.3L284.1 335.8L284.1 334.2L283.3 332.7L283 331L283.7 329.4L282.4 328.8L281.5 327.6L280.1 326.7L278.5 326.6L277.2 325.6L276.1 324.5L275.2 323.5L274.6 322.3L273.7 321.2L272.8 320.3L272.9 318.6L272 317.1L270.6 316.2L269.7 314.8L268.9 313.6L268.8 312.2L267.9 311.2L266.9 310.2L265.5 308.4L264.2 306.6L263.6 304.2L264.8 303.1L265.6 301.8L265.2 300.6L264.4 299.6L265.1 297.4L265.1 295.9L266 294.7L267.2 293.9L268.2 292.9L269 291.7L270.2 291L270.2 289.5L270.9 288.3L271.2 286L270.6 283.7L270.6 282.8L269.9 281.4L268.7 280.2L266.9 279.3L266.5 280.6L266 281.9L265.1 282.3L263.1 281.9L261.4 280.6L259.6 280.1L258.7 278.8L257.4 278.1L255.4 277.3L255.6 276.4L255 274.6L254 273.8L253.2 272.7L252.3 271.8L251 271.3L249.5 271.3L247.9 270.1L245.9 270.2L244.5 269.6L243.1 268.7L241.2 267.5L239.5 266L237.5 265.8L235.8 266.9L234.4 266.5L233.2 265.5L231.7 265.8L230.3 265.1L228.3 264.7L226.7 263.4L225.3 263.4L224 262.8L222.9 261.9L222.1 260.9L220.4 259.8L219.4 258.1L219.7 256.2L219 254.5L218 253.3L216.6 252.6L215.4 252.1L214.3 251.3L213.9 250L213 249L212.4 247.4L211.1 246.2L210.3 245.1L209.9 243.8L208.7 243.2L207.5 242.6L206.8 240.4L205.6 238.4L204.1 238.3L202.5 238L203.6 239.2L204 240.8L205 242L205.6 243.5L207 244.1L207.6 245.4L208.2 246.7L208.4 248.1L210.1 249.3L210.6 251.3L211.1 253.7L210 252.8L209.7 251.3L208.5 250.6L207.1 250.3L206.4 249L205.7 247.9L204.5 247.1L203.8 245.9L202.9 244.4L201.7 242.5L200.5 240.7L200.3 239.2L199.2 238L198 236L196.7 234.8L195.6 233.4L193.8 232.4L191.7 232.3L191 230.2L189.4 228.7L188.3 226.5L186.8 225.2L185.9 223.4L185.4 222L185.3 220.6L184.7 219L184.6 217.3L185.5 215.1L185 213L185.3 210.9L184.9 209.1L184.2 207.3L186.4 207.6L187.7 209.3L188.3 207.8L187.7 206L185.5 205.4L184 204.9L182.8 203.8L180.9 203.2L179.1 202.3L178.2 200.5L176.6 200L175.5 198.7L175.2 197.3L174.2 196.3L172.9 196L171.8 195.4L170.4 194.8L169.1 194.1L167.8 192.5L166.3 191L164.8 189.5L162.7 189.2L161.2 188.5L159.9 187.7L158.9 187L157.9 186.3L156.6 185.9L155.3 186.2L153.9 186.5L152.6 186L151.3 185.6L149.9 185.9L147.6 185.2L145.3 184.6L143.4 185.2L141.6 185.9L140 187L138 186.8L136.3 187.1L134.7 187.3L136.2 186.2L138 185.9L136.7 185.2L136.1 183.9L134.5 184.8L133.4 186.2L132.3 187.6L130.7 188.2L129.8 189.4L128.8 190.4L126.4 190.9L124.3 192.1L121.9 192.9L119.7 193.9L118.4 194.5L117 195L115.6 195.2L114.2 195.4L112.6 195.6L111.1 195.9L112.4 196L113.6 195.4L114.8 194.9L116 194.6L117.5 194.6L118.9 194.5L120.3 194L121.5 193.2L122.5 191.4L124.3 190.4L124.8 189.3L125.2 188.1L123.3 188.4L121.5 188.1L119.8 189L118.1 188.8L116.4 188.2L116 186.4L113.7 186.5L111.4 185.9L110.5 184.8L108.7 183.1L110 182.2L110.9 180.9L112.5 180.6L114.2 180.2L116 179.9L117.9 179.5L116.9 177.6L115.5 177L114 177.1L112.5 177.1L111.1 177.6L108.7 177.5L107.2 175.9L105 175.4M234 151.9L235.8 152.3L237.7 152.2L235.8 153.1L234 151.9M581.9 270.9L582.2 272.3L582.4 273.7L581.7 275.5L581.4 274.1L581.5 272.7L581.9 270.9M519.3 211.5L520.5 210.6L522.1 210.6L523.8 211.6L524.8 213.3L523.9 215.1L522.1 216L520.8 215.4L519.3 215.1L519 213.3L519.3 211.5M209.3 188.1L210.7 187.5L211.9 186.7L213.3 186.4L214.8 186.6L216.2 186.5L217.5 187.2L215.1 187.1L213 188.2L211.2 187.7L209.3 188.1M619.9 335.8L621.1 337.4L621 339.4L621.4 341.3L620.8 343.2L621.5 344.4L622 345.8L622.5 347.2L622.3 348.7L622.4 350L623.2 351.2L623.5 352.5L623.9 353.8L623.7 355.6L622.7 357.1L622.7 358.5L625 359L627.2 359.6L628.3 359L629.3 358.2L630.6 358L631.8 357.6L633.3 358.4L635 358.7L636.6 358.1L638.2 357.6L639.5 356.8L641 356.9L642.1 356L642.8 354.7L644.2 354.7L645.5 354.1L646.9 353.8L648.3 353.4L650.1 353L651.9 353.2L652.9 354L654 354.6L655.2 354.7L656.5 354.5L657.6 355.2L658.2 356.4L658.5 357.7L659.2 358.7L661.1 357.8L662.3 356.7L663.8 356L664.6 357.7L664.2 359.6L665.6 358.7L665.1 357.4L664.7 356L665.7 358.2L666.6 360.5L667.5 362.4L668.4 364.2L670.4 364.6L672 365.8L673.9 365.8L675.7 365.7L677.5 366L678.9 366.2L679.9 367.1L680.8 365.8L682.1 364.9L684.3 363.9L686.7 364.2L686.8 362.8L687 361.5L687.3 359.1L688.9 357.4L689.6 355.6L691.2 354.5L691.6 352.9L692.3 351.4L692.4 349.5L693.3 347.7L692.9 345.4L692.3 343.2L691.6 341.8L690.9 340.4L689.8 338.3L688.1 336.8L687 335.7L685.8 334.9L685.1 333.4L683.9 332.2L682.1 330.6L679.7 330.2L679.1 329L678.9 327.6L678.2 326.3L678.4 324.9L678.1 323L676.8 322.6L675.7 321.8L675.9 319.7L674.8 317.9L673.5 316.8L673 315.2L672 316.7L671.7 318.5L671.2 320.7L671.1 323L671.3 325.4L670 327.4L668.7 327.2L667.5 327.6L666 325.7L663.8 324.9L662.1 323.6L660.1 322.7L660.8 321.5L661.7 320.5L662.3 319.3L662.5 317.9L660.7 317.4L659.4 317.1L658.3 316.3L656.9 316L655.6 316.3L653.7 316.3L652.6 317.5L651 318.1L650.1 320.4L649.4 322.7L647.9 322.9L646.4 323L645.3 321.8L643.7 321.2L642.3 321.9L641.3 323L639.4 324.1L638.2 325.8L636.9 326.9L635.8 328.2L634.9 329.1L634.5 330.4L632.1 331L630 332.2L628.1 332.5L626.3 333.3L625 333.7L624.2 334.8L623 335.2L621.7 335.5L620.5 336.8L619.9 335.8M244.1 152.4L242.6 153.1L241.2 152.3L239.7 152.5L238.6 151.5L236.7 150.9L234.9 150.2L236.7 148.7L238.2 148.2L239.7 148.5L241.2 148.2L242.2 147.1L244.4 148.2L246.8 147.8L245.9 149.3L247.2 149.9L248.6 150.2L246.8 151.5L245.3 151.7L244.1 152.4M248.6 161.2L250.1 161L251.3 160.3L252.8 160L254.1 160.6L255.6 161.6L257.3 161L258.9 160.9L260.5 160.8L261.3 159.5L262.8 159.5L264.3 159.5L265.1 160.8L266.4 160.6L267.8 160.4L268.8 161.4L269.7 162.5L271.5 162.1L273.3 162.8L274.8 163.2L275.9 164.1L277.4 163.6L278.8 164.3L280.5 165.4L282.5 165.8L284.7 166.7L287 166.7L288.6 167.2L289.8 168.5L287.9 169.8L289.3 170.3L290.7 170.7L293 171.5L295.3 172.5L296.7 173L298 173.6L296.2 175.3L295 176.3L293.4 176.2L292.5 177.6L293 179L294.3 179.5L293.4 180.7L292.3 181.8L290.7 181.8L289.3 180.1L287 180.4L289.2 180.7L290.7 179.1L288.4 179.4L287 177.6L284.8 178L282.5 178.2L280.8 178.3L279.7 179.5L278.3 177.7L276.1 178L273.8 178L271.5 177.6L269.7 176.7L271.4 175.8L273.3 175.8L275.6 175L277.9 175.8L277 174L278.7 174L279.7 172.5L278.1 172.2L277 170.9L274.7 170.2L272.4 170L270.6 168.5L269 168.6L267.8 167.6L266.5 168L265.1 167.9L263.8 168.4L262.3 168.3L261.6 167.1L260.3 166.7L259.3 167.9L257.8 167.6L256.3 168L255 167.2L253.9 166L252.3 165.9L250.5 165.8L248.6 165.8L247.7 163.9L248.8 162.8L248.6 161.2M602.2 201.2L604.4 201.4L605.9 200.7L607.1 199.6L609.2 199.1L610.8 197.8L611.3 195.7L612.8 194.1L611.7 193.6L609.8 194.8L608.9 196.8L607.4 197.5L606.2 198.7L604.6 199.2L603.5 200.5L602.2 201.2M621.7 310.4L623.9 311L623 311.7L621.7 310.4M546.8 210.9L548.1 210.4L549.5 210.4L551.3 210.1L553.2 210.2L555 210.2L556.8 210.6L556.8 211.3L555.4 211L554 210.5L552.8 211.3L551.3 211.7L549.9 212.2L548.6 212.9L547.7 213.5L547.1 212.3L546.8 210.9M183.7 164.1L185.4 164L186.4 165.4L188.2 164.3L190.1 165L192 165.7L193.8 164.8L195 164L196.5 163.9L197.4 162.5L196.3 161.3L194.7 161.5L193.8 159.9L191.8 160.2L190.1 159.3L188.9 160.3L187.4 160.3L186 160.2L184.6 159.7L184.1 161.2L185.9 162.1L184 163L182.2 163.9L183.7 164.1M185.5 158.8L187.5 159.6L189.2 158.4L187.4 157.9L185.5 158.8M164.5 189.9L165.8 190.4L166 192.6L164.9 191.5L164.5 189.9M227.6 157L228.8 157.8L230.2 157.4L231.6 157.1L232.2 155.7L233.4 156.5L234.9 156.2L234 158.1L231.7 157.9L229.4 158.4L227.6 157M223.9 156.1L225.3 156L226.7 155.7L225.8 156.6L223.9 156.1M266.9 192.3L267.8 192.8L266.4 193.2L266.9 192.3M463.5 219.5L465.4 220.3L467.2 220.6L469 220.4L469.9 219.5L471 218.9L472.3 219.1L473.6 218.8L475 219L476.3 218.8L478.2 219.6L480 220.6L481.8 221L483.7 220.6L486 220.4L488.2 219.7L488.4 217.7L486.8 217.2L485.5 216.2L483.3 215.8L481.8 214.2L480.9 212.8L479.1 212.2L477.2 212.8L475.4 214.2L473.6 214.2L471.8 212.8L473.6 211.5L471.2 211.5L469 210.4L467.6 211.8L466.5 213.3L465.6 214.2L464.6 215.1L464.1 216.5L463.3 217.7L463.5 219.5M207.5 152.4L209.3 153.4L211.3 154.2L212.9 152.8L214.8 151.9L216.5 151.2L218.3 151.8L220.1 152.2L221.2 153.7L219.5 154.1L217.9 153.4L216.1 153.2L214.8 154.4L213.4 154.6L212 154.7L210.5 154.6L209.3 153.7L207.5 152.4M611.7 292.9L612.8 292L613.9 292.8L615.3 292.9L616.5 292.4L617.7 292L618.3 290.8L619 289.8L620.3 288.5L621.7 287.4L622.8 285.7L624.5 284.6L625.2 283.5L626.3 282.8L627.6 284.6L629.1 285.2L630 286.5L628.1 287.7L627.6 290.1L628.1 291.9L628.1 293.8L627.2 295.6L626.7 297.3L625.4 298.4L625.7 300.2L625.4 302L623.6 302.8L621.7 302.9L620.4 302.1L619 301.5L617.2 300.8L615.3 301.1L613.9 300.9L613.9 299.6L613.5 298.4L612.5 297L611.7 295.6L611.6 294.2L611.7 292.9M695.1 305.5L696.4 306.5L697.5 307.9L696.7 308.2L695.4 306.6L695.1 305.5M401.9 204.2L403.8 203.3L405.9 203.6L408.1 202.9L410.5 202.9L412.8 203.2L414.9 202L415.4 199.6L414 199.3L412.9 198.3L412 196.8L410.8 195.9L409.6 195L408.7 193.4L406.8 193.2L408.1 191.9L409 190.4L408.2 189.1L406.8 188.4L405 188.8L403.2 188.4L402.3 190.4L401.9 192.3L403.2 194.1L403.2 195.4L404.5 195.1L405.9 195.2L406.5 196.5L406.8 198.1L405.5 198.5L404.1 198.3L405 199.6L404 200.3L402.8 200.9L404.8 201.1L406.8 201.4L404.6 202L402.9 202.6L401.9 204.2M642.8 301.5L645 301.8L643.7 302.6L642.8 301.5M221.2 157.7L223 157.9L222.1 158.4L221.2 157.7M265.1 161.5L267 161.2L268.4 162.7L270.1 162.3L271.5 161.2L272.4 162.5L271.5 161.4L270.1 161.5L269 162.1L267.8 162.6L266.1 162.9L265.1 161.5M498.3 214.2L499.2 213.3L500.2 212.5L501.1 211.6L501.9 210.6L503.6 209.4L505.6 209.6L507.4 209.7L509.3 210L508.8 211.7L509.3 213.3L507.3 213.3L505.6 214.2L506.2 215.4L505.9 216.7L506.5 217.9L507.4 218.8L508 220L509.3 220.6L510.3 221.4L511.1 222.4L510.4 223.6L509.3 224.3L510.6 225.6L511.1 227.4L509.8 227.9L508.3 227.8L506.9 227.6L505.6 228.3L503.9 227.4L501.9 227L501.9 225.2L502.9 223.7L502.9 221.9L502.2 220.4L501 219.2L500.2 218L499.2 217L499 215.5L498.3 214.2M162.7 189.2L164 189.3L165.4 189.2L164.9 190.4L163 190.3L162.7 189.2M83.1 169.8L84.5 169.4L85.9 169.9L87.2 170.4L88.6 170.9L90.1 171.1L91.6 171.2L92.9 172.1L94.1 173.1L96 173.5L97.7 174.5L98.6 174.9L96.8 176.2L95.9 177.6L94.1 177.2L92.2 177.1L90.8 176.9L89.6 176.1L88.2 176L86.8 176L85 176.9L83.1 176.7M260.5 180.6L262 180L263.3 181.1L261.4 181.7L260.5 180.6M715.6 194.5L716.8 195.4M235.8 157.9L237.7 158.2L239 156.8L240.5 157.4L242.2 157.3L241.3 159L239 159L236.7 158.8L235.8 157.9M428 217.1L429.5 217.1L429.2 218.5L429.7 219.9L428.2 219.5L428 217.1M455.3 230.7L456.6 230.5L457.9 230.8L459.1 231.4L460.4 231L458.8 231.7L457.1 231.8L455.3 230.7M257 255.6L258.5 255.8L259.8 255.2L261 254.4L262.3 254.1L264.1 253.6L266 253.5L267.7 253.2L269.2 254L270.5 255L271.5 256.3L272.8 256.8L274 257.5L275.3 258.2L276.6 258.7L275.1 258.9L273.6 258.6L272 258.6L270.6 259.2L269.5 258.3L268.2 257.7L267.1 256.8L266 255.9L264.2 256.3L262.3 256.1L260.5 255.6L258.7 255.6L257 255.6M471.4 231.6L473.3 230.6L475.4 230.5L474.3 231.8L472.1 232.3L471.4 231.6M236.7 157L239 157L240.8 158.3L242.3 156.7L244.1 155.5L246 155.5L247.7 154.8L249.3 156.2L251.4 155.7L253.5 155.6L255 157.1L256.8 156.2L258.7 155.7L260 154.9L261.5 155.1L262.5 156.4L264.2 156.2L266 157.9L264.9 159.1L263.3 159.3L261.4 159.5L260.1 158.3L258.7 159.6L256.9 159.2L255.4 159.6L254.9 161L253.7 160.1L252.3 160.4L249.9 160.2L247.7 159.3L246.1 157.9L244.1 158.4L241.8 158.2L239.5 157.9L237.9 157.9L236.7 157M312.6 168.3L314.5 167L315.8 167.5L317.2 167.6L315.4 168.9L314.1 168.1L312.6 168.3M223.9 151.5L225.3 151.5L226.3 152.5L227.8 152.4L228.5 151.1L229.4 152.6L227.6 153L225.8 152.8L223.9 151.5M248.6 155.7L250.8 156L252.7 157L255.1 157.4L256.9 155.9L257.7 154.6L258.5 153.3L260 154.1L261.5 153.4L262.9 153.5L263.9 154.5L264.7 155.7L266 156.1L268 155.8L269.7 154.8L269.7 152.9L271.2 153L272.3 152.1L273.7 152.5L275.1 152L276.9 151.3L278.8 151.1L276.9 151L275.1 150.2L276.3 149.3L276.7 147.9L278.1 148.4L279.5 147.9L281 148.1L282.3 147.3L283.2 148.4L284.3 149.3L284.8 147.9L286.3 147.5L287.4 148.6L288.9 148.4L289.9 147.3L291.4 146.9L292.9 147.4L294.3 146.9L295.9 147L297 145.8L298.4 145.4L299.8 145.6L298.6 145.1L297.8 143.9L296.3 143.6L295.3 144.7L294.1 145.3L292.8 145.3L291.8 146.1L290.6 146.5L289.2 146.5L288 146L287.4 144.8L286.1 144.2L284.4 143.6L283.8 141.8L282.1 142L280.7 140.9L279.2 141.6L278.3 143L276.8 143.9L275.1 143.8L274.5 145.1L273.1 145.3L271.9 146.1L270.6 145.5L269.2 145.7L267.9 146.1L266.7 145.2L266 144L264.6 143.1L263.1 143.9L261.5 144.1L260.6 145.5L259.7 143.9L257.9 143.9L256.6 144.9L255 145.1L253.1 144.4L251.1 144.4L248.8 144.6L247.7 146.5L246.1 147L244.9 145.8L243.8 146.8L242.2 147.1L244.1 147.2L245.9 147.3L247.5 148.8L249.5 148.2L251.6 148.4L252.9 146.8L254.6 147.7L255.9 148.9L253.7 149.6L251.4 150.2L252.8 149.8L254.2 150.2L255.6 150.6L256.9 151.1L254.7 150.7L253.2 152.2L251.4 153.9L249.6 154.8L247.7 154.4L248.6 155.7M259.8 219.3L261.9 218.6L264.2 219.2L265.7 217.7L267.8 217.3L266 217.6L264.2 217.9L262.3 218.1L260.5 218.8L259.8 219.3M402.1 229.8L400.4 228.1L398.2 228.1L396 227.9L395.8 226.6L395.7 225.2L396.4 223.9L396.4 222.4L396.1 220.6L396 218.8L395.3 217L396.6 216.4L397.7 215.7L399.4 216.5L401.3 216.4L403.1 215.9L405 216.2L407.3 216.5L409.6 216L410.3 214.3L410.1 212.4L409.6 210.9L408.7 209.6L407.4 209.8L406.1 209.4L405.1 208.7L404.1 207.8L405.5 207.8L406.9 207.8L408.1 207.1L409.4 206.5L409.4 204.7L410.9 204.8L412.3 205.3L413.7 204.6L415.1 203.8L416.9 202.3L418.2 201.7L419.6 201.4L420.8 200.2L421.5 198.7L423.2 197.8L425.1 197.8L426.4 197.1L427.9 196.8L427.6 195.5L427.9 194.1L427.1 192.3L428.6 190.8L430.6 190.3L431.5 192.3L430.7 193.5L430.6 195L431.5 196L432.4 196.8L434.2 196.2L436.1 195.9L437.5 196.5L438.8 197.2L440.4 197.2L441.6 196.3L443.9 195.9L446.2 195.4L447.6 195.4L448.9 195.9L450 195.2L450.7 194.1L450.9 192.7L450.7 191.4L452.6 190.3L454.3 191.3L456.2 191L456.2 189L455.3 187.3L457.1 186.1L459.3 185.9L461.5 186L463.5 186.8L465.4 186.3L467.2 185.9L465.9 185.1L464.4 185L462.1 184.5L459.9 185.1L458.5 184.7L457 184.7L455.5 184.9L454.4 185.9L452.7 185.4L451.6 184L451.4 182.2L451.6 180.4L452.5 178.6L454.3 177.7L456.2 177.3L458 176.7L459 175.8L457.5 175.7L456.2 176.1L454.7 176.2L453.5 175.3L451.7 176L450.7 177.6L448.8 178.4L447.1 179.5L445.4 180L444.3 181.3L444 182.7L443.4 184L444.5 185.3L446.2 185.9L445.2 187.7L443.9 189.1L442.5 190.4L442.2 191.7L441.6 192.8L439.9 193.1L438.5 194.1L436.1 194.1L435.7 192.3L435.3 190.6L433.9 189.5L432.4 187.7L431.5 186.8L429.7 187.7L428.5 188.8L427 189.2L425.6 189.1L424.2 189.2L422.4 187.7L422 186.3L421.5 185L421.2 183.6L421.5 182.2L423.3 181.3L425 180.2L427 179.5L428.7 178.5L430.6 178.6L431.8 177.3L433.4 176.7L434.1 175.6L435.2 174.9L436.7 173.6L437.9 172.2L438.9 171.3L439.8 170.3L441.4 169L443.4 168.5L445.1 167.4L447.1 167.6L448.9 167.2L450.7 167.2L452.2 167.4L453.6 166.8L454.7 165.9L456.2 165.8L458 165.3L459.9 165.8L461.7 165.5L463.5 165.8L465.6 166.3L467.2 167.6L469 167.9L470.8 168.7L472.7 168.7L474 169L475.4 169.1L476.8 169.3L478.2 169.4L480.1 169.5L482.1 169.2L483.9 170L485.5 171.2L486.7 171.9L487.3 173.1L485.5 174.5L483.2 174.7L480.9 174.6L478.6 174.2L476.3 174L474.5 173.9L472.7 174L473.9 175.9L475.4 177.6L477.8 177.4L480 178.6L481.3 177.9L482.6 177.4L484 177.7L485.5 177.6L486.6 176.4L487.3 174.9L488.7 174.6L490 174.4L491.4 174.3L492.8 174.3L492.5 172.3L492.8 170.3L494.7 170.5L496.5 171.2L498.2 172.1L500.1 171.8L502.1 170.3L504.6 170.4L506.9 170.6L509.3 170.3L511.1 171.2L512.9 170.9L514.8 170.7L516.5 169.9L518.4 169.8L520.3 169.9L522.1 170.3L522.9 169.1L523.9 167.9L525.1 168.8L526.5 169.2L527.9 169.4L529.4 169L530.7 169.8L531.9 170.7L533.3 170.2L534.9 170.3L536.7 169.8L538.5 169.6L536.5 169L534.9 167.6L535.1 166.2L534.9 164.8L536.4 163.3L538.5 162.5L540.8 161.6L543.1 162.5L543.5 164.4L544.9 165.8L545.9 167.5L546.8 169.4L546.9 170.9L547.7 172.2L549 171.1L550.4 170.3L551.7 171.2L553.2 171.2L553.3 169.9L553.5 168.5L553.4 167L554.1 165.8L555 163.6L555.7 162.4L557 161.7L558.2 161.3L559.6 161L561 160L562.8 160L564.4 160.5L566 161.2L567.3 161L568.7 160.8L570 160.1L571.4 160.3L570.6 159.3L569.6 158.4L571 158.8L572.5 158.8L573.6 157.8L575.1 157.5L577.5 157L579.5 155.7L581.8 156.6L584.2 156.6L586.1 156.6L587.9 156.7L589.6 155.8L591.6 156.1L593.4 155.7L595.2 155.7L597.1 155.2L598.9 154.6L600.7 153.9L602.5 153.5L604.5 153.7L606.2 154.8L608.1 154.8L609.9 155.3L611.6 156.2L613.5 155.8L615.4 155.6L617.2 156.2L618.4 157.1L619.9 157.2L619 159.1L617.2 160.3L618.5 160.7L619.9 161.2L621.9 162.2L624 162.1L626.2 162.4L628.1 161.2L630.2 162.5L632.6 163.2L635 163.2L637.3 162.1L638.9 161.1L640.8 160.8L642.7 161.7L644.6 161.2L646.8 162.1L648.3 163.9L649.6 164.6L650.9 165.3L652.4 165.5L653.7 164.8L655.4 166L657.4 166.1L659.1 165L661.1 164.8L662.5 164.9L663.8 164.3L665.2 164.6L666.6 163.9L668.4 163L670.9 161.3L673.9 161.4L676.7 162.1L679.4 163.4L680.9 164.6L682.8 165.2L684.7 164.6L686.7 164.8L688 165.4L689.5 165.3L690.9 165.5L692.2 166.1L693.9 167L695.9 167L697.5 165.9L699.5 165.8L700.8 166L702.2 166.2L703.6 166.6L705 166.1L705 167.9L707.4 168L709.5 169.1L711.7 168.2L714.1 168.1L716.4 167.4L718.6 166.7L721 166.9L723.2 167.6L726.2 167.3L728.7 168.9L731.4 167.8L734.2 167.9L736.2 167.6L738.1 168.1L739.5 169.5L741.5 169.8M741.5 176.7L739.7 176.9L737.9 177.6L736.4 179.2L736.1 181.3L734.7 181.9L733.5 182.6L732 182.9L730.6 182.6L729.1 183.1L727.6 183.2L726.5 184.4L725.1 185L723.6 185.1L722.5 186.2L721.1 185.8L719.6 185.9L718.2 186.2L716.8 185.8L715.5 185.4L714.1 185.9L712.2 186.1L710.4 186.8L709.7 188.2L708.6 189.5L709 191.6L710.4 193.2L709.5 194.5L708.6 195.9L706.7 197.2L705 198.7L703.3 199.2L702.2 200.5L700.6 201.9L698.6 202.3L698.6 200.8L697.6 199.6L697.4 197.3L696.7 195L697 193.2L697.6 191.4L699.5 189.9L700.9 189L702.5 188.9L703.7 187.8L705 186.8L704.7 185.4L705 184L706.8 184.6L708.6 183.8L710.3 182.8L711.4 181.3L709.7 181.2L708.1 181.6L706.6 182L705 182.2L703.7 182.8L702.3 182.9L700.9 182.8L699.5 182.9L697.5 183.6L695.8 185L694.7 186.1L693.1 186.4L691.9 187.4L690.3 187.7L688.5 188.1L686.6 188.3L684.6 188.3L683 187.2L681.6 187L680.3 186.6L678.9 186.5L677.5 187L676.1 187.4L674.9 188.2L673.5 188L672 187.7L670 188.2L668.4 189.5L666.8 191.2L664.7 192.3L663.6 194.5L662.9 196.8L664.7 197.5L666.6 196.8L668.3 197.9L670.2 198.7L671.1 200.5L670 202.2L669.3 204.2L669.5 205.5L669.3 206.9L668.4 208.4L667.8 210L666.3 210.8L664.7 211.5L664.4 213.2L663.2 214.5L661.6 215.2L660.1 216L658 217.3L655.6 217.3L653.7 217.5L651.9 217.9L650.1 218.8L649.7 220.2L649.2 221.5L647.8 222.9L646.4 224.3L646.8 226.4L648.3 227.9L649 229.2L649 230.7L647 232L644.6 232.5L643.3 232.5L643.7 231.2L643.7 229.8L642.8 228.6L642.8 227L640.9 226.1L640.5 224.7L640.9 223.4L639.1 222.8L637.4 223.7L635.5 224.3L634.6 223L634.5 221.5L635.1 220.6L633.5 221.7L631.8 222.4L630.6 223.6L629.1 224.3L627.6 225.2L628.5 226.4L629.6 227.6L631.7 227.2L633.6 226.5L635.1 226.7L636.4 227.6L634.4 228.5L632.7 229.8L631.8 230.7L630.9 231.6L632.3 233.2L632.7 235.3L633.3 236.5L634.5 237.1L635.1 238.9L635.5 240.7L634.9 242.7L633.6 244.4L633.1 246L631.8 247.1L630.9 249L629.8 250.3L628.1 250.8L626.6 252L625.4 253.5L622.9 253.6L620.8 254.8L619 255.4L617.1 255.5L615.3 256.3L614.1 258.3L613 256.3L610.8 256.1L609.4 256.7L608 257.2L607.3 258.5L606.2 259.4L605.6 261.2L606.8 262.2L607.1 263.6L607.9 264.8L608.9 265.8L610.1 267L611.3 268.2L611.9 270L612 271.8L611.7 273.2L611.7 274.6L610.3 275.5L608.9 276.4L607.7 277L607.1 278.2L605.6 278.8L604.4 279.9L604 278.2L603.5 276.4L602 276.4L600.7 275.9L599.8 273.7L598.5 272.6L596.9 272.4L595.2 270.9L595.2 273.3L595.1 275.5L593.8 277.3L594.3 279.1L595.8 281L596.4 282.1L597 283.2L599.2 284.3L600.3 285.3L601.3 286.5L601.6 288.3L602.5 290.5L602.5 292.9L601.6 293.2L600.4 293L599.2 292.5L598.6 291.4L597.6 290.5L597 288.8L595.8 287.4L595.3 286L595.8 284.6L594.7 282.8L593.4 281.6L592.1 280.4L592.8 278.9L592.5 277.3L592 275L592.7 272.7L592.3 271.3L591.2 270.2L591.1 268.7L591 267.3L589.7 265.4L588.3 266L587 266.7L584.8 266.3L585 264.5L585.2 262.7L584.5 261.2L583.5 259.9L582.6 258.6L581.1 257.7L580.3 256.3L580.2 254.6L577.8 255L576.5 255.6L575.1 255.7L573.3 256.3L571.4 256.3L571.1 258.1L569.8 259.7L567.8 260.1L566.6 260.7L565.5 261.4L564.6 262.4L564.1 263.6L563 264.3L562.3 265.4L560.6 266.1L559.2 267.3L559.9 269.6L559 271.8L558.2 273.6L558.3 275.5L557.4 276.8L555.9 277.8L555 279.3L554.1 280.8L552.2 279.3L551.7 277.9L551.3 276.4L551.1 275.1L550.4 274L549.7 273L549.1 271.8L548.5 270.5L548.4 269.1L547.2 268L546.8 266.3L546.1 265.1L545.6 263.7L545.2 262.3L545.5 260.9L544.9 259L545.5 257.2L544.9 256.3L543.2 257.1L541.3 257.6L540.1 255.9L538.5 254.8L540.4 253.9L539.1 253.1L537.6 252.6L536.7 251.4L535.4 250.8L533.9 249.2L531.6 248.9L529.4 249.3L527.1 249.8L524.8 249.5L523.3 249L521.6 248.9L520.1 248.3L518.4 248.6L517.4 247.5L516.6 246.4L515.5 245.9L513.6 246L512 247L511 246.2L509.7 245.8L508.7 245.1L507.4 244.8L505.8 243.4L504.7 241.7L502.9 240.7L501 240.9L500.1 242.2L501 244.4L501.8 245.4L502.9 246.2L504.1 248.1L505.2 250.3L506.7 251.5L507.4 251.7L509.3 252.1L511.1 251.3L512.2 249.9L513.8 249L515.3 247.5L515 248.8L515.5 250.1L516.9 250.8L517.5 252.3L519 252.9L520.2 254.1L521.7 254.8L520.8 256.7L519.3 258.1L518.3 259.4L517.9 260.9L516.5 261.4L515.7 262.7L514.1 263.4L512.9 264.5L511.5 265L510.5 266L509.1 266.3L507.8 266.9L506.1 267L504.5 267.5L503.3 268.6L501.9 269.6L500.3 270.7L498.4 271.4L496.5 271.6L494.6 272.2L493.3 272.5L491.9 272.4L491.6 270.5L490.4 269.1L490.6 267.3L490.4 265.4L489.6 263.5L488.2 261.8L487.1 259.8L485.5 258.1L485 256.4L483.7 255.4L483.2 253.6L482.7 251.7L481.7 250L480 249L479.1 248L478.9 246.7L478 245.8L477.2 244.8L476.9 243.5L476 242.6L475.4 244.8L474.1 244.8L472.9 242.9L471.8 240.9L472.3 243.3L473.6 245.3L474.4 247.2L475.4 249L476.8 250.6L477.6 252.6L479 253.8L479.8 255.4L479.6 256.8L479.9 258.1L480 259.6L480.5 260.9L482 261.6L482.7 263.1L482.9 264.9L484 266.3L485.5 267.8L487.2 268.7L488.2 270.4L490.2 271L491.3 272.7L491.5 274.4L492.9 275.2L493.7 276.6L495.2 276.6L496.5 275.9L498.7 275.2L501 275.1L502.2 274.6L503.4 273.9L504.7 273.7L506 274L506 276.4L506.1 277.7L506.1 278.9L505.4 280L504.7 281L503.9 283.3L501.9 284.6L500.3 286.3L499.2 288.3L497.7 289.7L496.5 291.4L495.1 292.2L493.9 293.2L493 294.5L491.9 295.6L489.8 296.9L488.2 298.9L487.2 300.4L485.5 301.1L484.6 302.7L484 304.4L483.8 306L483.3 307.5L483.6 309L484.6 310.2L484.7 312.7L485.8 314.8L485.6 316.7L486.4 318.5L487.3 320.7L486.8 323L484.7 324.5L483.7 326.7L481.4 327L479.6 328.5L477.5 329.7L476.3 331.8L477.2 333.8L476.9 335.8L477.5 337.6L477.2 339.5L476.2 340.4L475.3 341.5L473.9 341.5L472.7 342.2L472.5 344.1L472.7 346L471.8 347.7L470 348.8L469 350.5L467.8 351.5L467.2 352.9L465.2 354.2L463.5 356L461.5 356.3L459.9 357.4L458 357.4L456.2 357.8L454.4 358.3L452.6 358.2L450.9 359.2L448.9 359.3L447.4 359.1L446.2 358.2L446.2 356.6L445.6 355.1L444.4 352.9L444.1 350.5L443.2 349.3L442.5 347.9L441.3 346.5L440.3 345L438.9 343.5L438.3 341.6L438.8 339.7L438.8 337.7L438.2 336.2L437 335.2L436.4 333.7L436.1 332.2L435.3 330.9L434.6 329.6L434.7 328L433.9 326.7L433.8 325.2L434.5 324L434.4 322.6L434.3 321.2L435.5 319.3L437 317.6L436.3 315.3L436.1 313L435.9 311.2L436.5 309.6L436 307.9L434.8 306.6L434.5 305.2L434.1 303.8L432.7 302L430.6 301.1L429.9 299.2L428.8 297.4L428.4 295.5L429.3 293.8L429.7 291.9L430.2 290.1L429.3 289.1L428.4 287.9L426.8 287.4L425.1 287.6L423.7 287.4L422.4 287L421.5 285.4L420.2 284.1L418.5 284L416.9 284.1L415.6 284.7L414.1 284.8L412.6 284.5L411.1 285.1L409.9 286L408.7 286.8L406.7 287L405 286.1L403.3 286.6L401.6 286.1L400.1 286.7L398.6 287.6L397.1 287.3L395.9 286.5L394.4 286L392.9 285.5L392.3 284.1L391.3 283L389.4 281.9L388.2 280.1L387.3 278L385.8 276.4L385.2 275.2L384 274.6L382.5 274.1L381.6 272.7L381.2 270.7L380.9 268.7L381.5 267.5L382.1 266.3L382.9 264.1L382.7 261.8L382.1 259.4L381.2 257.2L381.4 256L381.6 254.7L382.4 253.7L383.1 252.6L384 251.6L384.4 250.3L385.1 249.2L385.8 248.1L387 246.4L388.5 244.9L390.5 244.7L392.2 243.5L393.1 241.9L394.4 240.7L395.4 238.5L394.9 236.2L396.8 234.7L398.2 233.8L399.9 233.4L400.4 231.6L401.5 230.1L403.2 230.1L404.4 230.5L405.7 231L406.9 231.6L408.3 231.2L410.3 230.7L412.3 230.1L413.5 229.1L415.1 228.9L416.6 228.7L418.2 228.3L419.3 227.6L420.7 227.3L421.9 227.8L423.3 227.9L425.6 228.5L427.9 228.1L429.3 227.9L430.6 227.4L432.4 228.1L431.7 229.3L431.5 230.7L432.4 231.6L430.8 233.1L432.4 234.5L433.8 235.2L435.2 235.6L436.4 235.6L437.7 235.8L438.8 236.4L440.1 236.5L440.7 238L443 238.7L445.2 239.8L446.9 239.4L448.5 239.3L448.9 237.1L450.7 235.6L452.5 236.3L454.4 236L456.4 236L458 237.1L460.2 238.4L462.6 238.4L464.5 238L466.3 238.9L467.6 238.2L469 238L471.4 238.5L473.1 238.2L474.9 238.4L476 237.2L476.3 235.6L477.2 233.4L477.6 232.1L478 230.7L478.5 228.7L477 228.6L475.4 228.3L473.4 228.4L471.8 229.6L469.9 229.8L468.1 229.2L466.3 228.8L464.4 228.3L463.4 227.4L462.3 226.5L461.7 225.2L460.8 224.3L460.8 221.9L460.2 221L458.2 220.6L456.2 221L454.4 221.9L453.5 222.4L454.4 224.3L455.2 225.3L456.2 226.1L454.4 227L453.5 228.9L452 228.1L450.9 226.5L451.6 225.2L450.6 224.4L449.8 223.4L448.8 222.6L448 221.5L447.8 219.2L446.2 217.9L444.1 217.4L442.5 216L441.4 214.8L439.8 214.2L438.6 213.5L437.4 213.1L437 212L434.8 212.8L434.8 214.2L435.8 215.3L437.2 216L438.3 217.2L438.8 218.8L440.2 218.9L441.6 219.2L442.8 220.3L444.3 221L446.2 222.1L444.8 221.7L443.4 221.5L443.3 222.8L442.5 223.9L441.6 226.1L441 225.6L441 224L441 222.4L439.4 221.4L438.4 220.5L437 220.3L435.5 219.8L434.3 218.8L432.4 217.9L431.5 216L429.7 215L428.4 215.5L427 215.5L425.7 216.3L424.2 216.8L422.9 216.3L421.5 216.2L420.1 216L418.7 216.4L417.8 217.9L418.2 219.2L416.3 220.4L414.1 220.6L413.5 221.8L412.3 222.4L411.8 224.3L412.3 224.8L410.9 226.8L409.9 227.9L408.7 228.5L406.4 228.8L404.1 228.5M299.8 389.4L302.1 388.8L304.4 389.4L306.6 390L305.3 390.2L304.4 391.3L302.6 391.2L300.8 390.7L299.8 389.4M736.6 327.6L738.8 327.3L739 328.7L737 328.9L736.6 327.6M739.3 325.6L741.5 325.2L740.6 326.3L739.3 325.6M631.4 311L632.7 310.3L634.1 309.9L635.6 309.8L636.9 310.6L636.4 311.5L634.6 311.9L632.7 311.7L631.4 311M494.6 148.4L497 148.5L499.2 147.8L501.5 148.6L503.8 147.8L508.3 147.6L512.9 147.1L517.5 146.4L522.1 147.5L524.2 148.4L526.6 148.3L528.9 147.9L531.2 147.8L529.1 148.9L526.7 149L524.4 149.8L522.1 149.3L517.3 149.2L512.9 150.8L508.5 149L503.8 149.3L501.4 149.3L499.1 149.7L496.9 149.1L494.6 148.4M244.8 296.2L246.2 296L245.7 297.4L244.8 296.2M183.7 176.4L185.6 175.6L187.4 174.5L188.9 173.2L191 173.1L192.7 174.3L194.7 173.4L196.5 174.9L194.7 175.7L192.8 175.8L190.5 175.9L188.3 176.7L186.1 175.7L183.7 176.4M198.3 184L200.3 184.3L202 183.1L203.8 182.8L205.6 182.6L207.8 181.4L210.2 181.3L208.4 182L206 182.8L203.8 183.9L202.1 184.9L200.2 184.2L198.3 184M302.6 145.3L307 147.2L311.8 147.2L316.5 146.5L320.9 144.7L325.7 145.1L329.9 142.8L334.5 143.8L339.2 142.9L343.5 145.2L348.3 145.2L352.6 143L357.4 142.9L361.2 143.3L364.9 142.6L368.5 143.7L372.1 144.7L373.9 145.3L375.8 145.3L377.6 145.8L379.4 146.5L382.3 146.8L384.9 145.6L387.6 146.2L390.4 146.5L388.3 147.7L385.9 148.2L383.7 149.2L381.2 149.3L379.7 151.1L377.6 152L378.5 153.2L378.5 154.8L376.8 156.4L375.7 158.4L374.7 160.5L373 162.1L372.8 163.5L372.1 164.8L370.4 166L368.4 166.7L366.6 168.1L364.8 169.4L363.1 170.3L361.1 170.3L359.3 170.6L357.4 170.9L356.1 171.4L354.7 171.1L353.3 171.5L352 171.8L350.7 172.8L349 173L347.8 174L346.5 174.9L344.7 175.5L342.8 175.8L340.7 176.2L339.2 177.6L337.4 178.7L336.4 180.4L336.1 181.7L335.8 183.1L334.7 184L333.7 185L332.2 185.1L330.9 185.9L329.8 184.6L328.2 184L326.5 183.2L324.5 183.1L322.8 182.1L321.8 180.4L320.7 178.7L319 177.6L317.8 176.1L316.3 174.9L314.9 173.8L314.5 172.2L314.4 170.6L315.4 169.4L317.1 168.9L318.1 167.6L316.4 166.5L314.5 165.8L312.8 164.6L311.7 163L309.5 162.2L308.1 160.3L306.3 159.2L305.3 157.5L303.7 157.2L302 157.7L300.3 157.7L298.9 156.6L297.2 155.8L295.3 155.9L293.4 156.3L291.6 156.6L290.2 156.5L288.8 156.5L287.5 155.9L286.1 155.7L284.7 155.2L283.1 155.5L281.8 154.8L280.6 153.9L280 152.7L278.8 152L280.3 151.8L281.7 151.7L283.3 151.4L284.3 150.2L286.1 148.5L288.6 148L291 148.3L293.4 148L294.9 148.2L296.4 148.1L297.4 146.9L298.9 146.5L300.8 146L302.6 145.3M238.6 154.8L240.4 155.1L242.2 155L240.4 155.5L238.6 154.8M704.2 312.6L706.4 313.5L705.9 313.7L704.6 313.2L704.2 312.6M610.9 260.5L612.6 262.3L614.4 261.4L615 260.3L615.3 259L613.5 258.8L612 259.3L610.9 260.5M645.5 292.3L646.5 293.1L647.3 294.1L646.4 295.3L646.4 296.7L645.9 294.5L645.5 292.3M127.2 258.7L128.8 259.6L127.7 261L127 259.8L127.2 258.7M276.2 261.8L277.7 260.5L279.2 259.2L280.5 259.1L281.7 259.4L283 259.8L284.3 259.6L285.5 261L287.2 261.6L285.9 262.4L284.3 262.3L282.4 262.2L280.6 262.7L278.5 262.2L276.2 262.1L276.2 261.8M668.4 218.8L670.2 219.3L672 218.9L673.9 218.8L675.2 217.9L676.6 217.1L678.4 216.4L677.5 215.1L675.7 214.6L673.9 214.2L672.8 213.2L671.5 212.6L671.6 213.9L671.1 215.1L669.1 216.4L668.2 217.9L668.4 218.8M651.7 233.4L653.7 232.9L655.1 232.7L656.5 232.7L657.8 232.3L659.2 232.1L659.6 233.8L661.1 234.3L662 233.4L662.9 232.3L664.5 232.7L666.2 232.3L668.4 231.6L669.8 230.3L669.5 228.3L669.6 226.9L670.2 225.6L671.4 224.7L672 223.4L671.5 221.8L671.1 220.1L669.3 220.6L668.4 222.4L668 224.3L667.5 226.1L665.6 227L664.3 227.5L662.9 227.9L662.2 227.4L661.8 228.7L661.1 229.8L659.2 230.3L657.4 230.5L655.6 230.7L653.9 231L652.8 232.3L651.7 233.4M257.8 211.5L259.5 212.1L261.4 212.4L262.4 213.2L263.5 213.8L264.7 214.1L266 214.2L264.5 213.1L263.3 211.7L262.7 213L262.7 214.4L262.5 215.9L261.4 217L259.6 215.5L258.9 214L258.7 212.4L257.8 211.5M368.4 175.8L370.4 175.3L372.1 174.2L373.8 174.9L375.7 175.4L377.6 175.2L379.4 174.5L380.8 174.8L382.1 174.4L383.6 174.7L384.9 174.2L386.6 174.8L387.6 176.4L386.4 177.4L384.9 178L383.6 178.8L382.4 179.8L380.9 179.6L379.4 179.7L377.5 179.7L375.7 180.1L374 179.3L372.1 178.9L371.2 176.7L369.9 175.9L368.4 175.8M401.3 200.5L401.4 199.1L401.3 197.8L402.1 195.9L400.9 195L399.5 194.5L398.3 195.5L396.8 195.9L395.3 196.2L394 196.8L394.9 198.7L393.5 200.5L394.9 201.4L396.3 201.1L397.7 200.9L399.3 200.8L400.8 200.1L401.3 200.5M269.1 262L271 261.5L272.8 262.1L272.8 262.9L270.9 263L269.1 262.3L269.1 262M604.7 308L606.2 306.6L608.4 306.1L610.4 306.9L612.3 307.9L614.4 308L616.2 308.7L618.1 308.2L619.8 309.2L621.7 309.7L621.7 311.5L619.4 311.4L617.2 310.8L615.4 310.2L613.5 310.4L611.8 309.7L609.9 309.7L608.5 309.3L607.1 309L605.8 308.7L604.7 308M227.6 169.8L228.5 170.1L227.2 170.3L227.6 169.8M120 255L121 255.2L120.6 255.6L120 255M224.8 153.1L226.2 152.9L227.6 153.3L226.1 153.7L224.8 153.1M538.2 384.9L539.5 385.1L540.9 385.4L539.6 386.3L538.2 384.9M231.2 169.6L233.1 169.5L234.9 170.1L236 169.4L237.1 168.9L234.9 167.9L233.5 168L232.2 168.5L231.2 169.6M129.4 190.8L130.7 190.4L131.6 189.3L133.9 189.7L132.1 191.4L130.7 191.5L129.4 190.8M679.4 215.5L680.8 214.9L682.1 214.2M683.9 212.8L685.1 211.7L686.7 211.5M690.3 209.3L692.2 208.2M694.9 205.1L696 203.8L697.6 203.2M649.7 234.7L651.6 233.4L653.6 234.2L652.9 235.5L652.8 237.1L651.4 238.9L650.5 237.8L650.1 235.6L649.7 234.7M467.2 185.9L469.5 185.5L471.8 185L472.3 183.5L470.7 182.8L469 183.1L467.7 184L467.2 185.9M299.8 265.8L300.4 267.6L300.8 269.3L300.4 271.5L299.5 273.5M624.5 310.8L625.8 311L624.8 311.9L624.5 310.8M218.4 154L219.8 153.9L221.2 153.9L220.6 154.6L218.4 154M631.8 266.3L631.5 263.9L632.9 261.8L634.4 261.7L635.8 261.8L636 263.2L636.4 264.5L635.2 265.4L634.7 266.9L634.6 268.6L635.5 270L637.3 270.4L639.1 270.9L638.2 271.8L635.9 271.2L633.6 270.4L632.9 269.3L631.9 268L631.8 266.3M207.5 153.1L209.3 153.5L211.1 153.3L209.3 154L207.5 153.1M502.5 317.6L503.8 319.7L504.1 322.1L504.7 324L504.3 325.5L503.2 326.7L503.3 328.2L502.5 329.4L502.4 331.5L501 333.1L500.1 334.3L499.7 335.7L499.3 337.1L499.2 338.6L499.1 340.1L498.3 341.3L496.5 341.2L495 342.2L493.6 341.7L492.8 340.4L492.9 338L491.9 335.8L492.1 333.8L493.3 332.2L492.3 330L492.8 327.6L493.4 326.5L493.7 325.2L495 324.6L496.5 324.5L498 323.6L499.2 322.1L499.9 320.8L501 319.9L501.4 318.5L502.5 317.6M706.1 311L707.7 312.8L707.2 313L705.9 311.5L706.1 311M474.9 313L475.1 314.5L476 315.7L475.9 317.1L476.3 318.5L477 319.8L476.9 321.2L476 321.2L475.7 319.3L475.1 317.6L474.9 316.1L474.3 314.8L474.9 313M266 181.5L266.9 182.2L265.5 182.6L266 181.5M125.7 257.3L127 257.7L126.3 257.9L125.7 257.3M229.4 149.1L230.8 149.2L232.2 149.5L230.3 149.8L229.4 149.1M198.3 157L200.5 157.3L202 155.7L203.3 155.1L204.8 155.2L206 156.1L207.5 156.2L209.6 156.8L211.1 155.3L212.9 155.4L214.2 156.6L216 157.1L217.5 156.2L219.4 157.3L218.2 158.4L216.9 159.5L215.1 159.8L213.9 158.4L212.6 159.8L210.9 160.8L209.3 159.9L207.5 159.3L206.1 159.2L204.7 158.8L203.3 158.7L202 159.2L199.7 158.4L197.4 159.3L198.5 158L200.2 158.1L198.3 157M251.7 218.8L251.5 216.9L252.3 215.1L254 213.8L255 211.8L256.9 211.8L255.8 213.6L254.5 215.1L254.2 216.5L254.1 217.9L252.9 218.2L251.7 218.8M635.5 282.8L636.8 282L638.2 281.3L639.9 279.6L641.9 278.2L642.4 280.3L643.7 281.9L642.8 283.1L642.8 284.6L641.3 285L639.1 283.9L637.4 283L635.5 282.8M632.3 270.9L634.5 271.8L633.6 273.3L633 272.1L632.3 270.9M124.6 256.8L125.7 257M636.4 275.7L637.5 276.8L638.2 278.2L636.9 279L636.2 277.3L636.4 275.7M683.9 305.7L685.2 305.1L686.7 305.3L688.3 305L689.4 303.8L690.3 305.7L688.9 306.1L687.6 306.9L686.3 306.4L684.8 306.6L683.9 305.7M712.3 332.7L713.7 333.4L715 334.4L716.3 335.5L717.8 336.4L716.8 336.4L715.5 334.4L713.2 333.7L712.3 332.7M303.9 208.5L305.3 209L306.9 209.3L308.5 209.3L309.9 208.5L312.1 209.5L314.5 210.2L315.9 208.7L315 207.5L314.5 206L312.6 205.4L310.8 204.5L311.2 203L310.8 201.4L309.5 202L308.1 202.3L306.8 203.1L305.9 204.4L305.4 205.8L304.4 206.9L303.9 208.5M651.9 297.8L653.1 296.8L654.5 296.5L655.9 297L657.4 297.1L658.7 299.2L659.2 301.6L660.8 301.2L661.9 299.9L663.2 299L664.7 298.5L666 299.2L667.4 299.6L668.8 300.2L670.2 300.4L671.5 301.2L672.7 302.1L674.2 302L675.7 302.6L677.1 304.6L679.4 305.7L680.9 305.9L682.1 306.9L682 308.7L682.6 310.2L683.9 312.1L685.4 313.9L687.6 314.8L686.3 314.3L684.8 314.4L683 314.1L681.2 313.9L680 312.4L679.4 310.6L677.6 309.8L675.7 309.9L674.8 310.8L674.4 312.1L672 312.4L670.2 312.3L668.5 311.2L666.6 310.6L664.7 311L664.8 309.4L665.3 308L665 306.4L664.2 305.1L662.1 304.6L660.1 303.7L658.1 303.6L656.5 302.4L655.2 301.5L653.7 300.7L653.1 299.1L651.9 297.8M687.6 300.4L688.8 301.5L690.3 302L691.3 303.2L692.2 304.4L691.2 303.8L689.5 303.1L688.5 301.5L687.6 300.4M583.3 281L584.1 282.8M234.9 155.3L236.7 155.1L235.8 155.7L234.9 155.3M507.4 164.8L508.9 165.2L510 166.2L511.5 166.4L512.9 166.3L514.3 166.5L515.6 166.9L517 166.8L518.4 166.5L517.3 165.9L516.2 165.1L515.5 164L514.7 163L515.7 162.1L516.6 161.2L518.1 160.2L519.8 160.1L520.5 158.5L522.1 157.5L524.4 158.6L526.9 157.9L528.9 156.6L531.2 155.7L532.5 155.1L534 155.3L535.3 155.2L536.7 154.8L534.9 156.2L533 157.5L530.2 157.3L527.5 158.3L524.9 159.7L522.1 159.7L520.3 160.4L518.6 161.4L516.7 161.6L514.7 161.4L513.5 162.1L512.2 162.9L510.8 163.5L509.3 163.2L507.4 164.8M664.7 157L666.7 157.3L668.7 156.7L670.4 157.8L672 159L673.8 160L675.9 159.7L677.8 159.1L679.4 157.9L681 158.9L682.9 159.1L684.9 159.4L686.7 158.4L684.8 157.5L683 156.6L679.3 157L675.7 156.1L672.1 157.4L668.4 156.2L666.6 156.9L664.7 157M728.2 358.7L729.8 359.3L731.1 360.5L732.5 361.7L733.3 363.3L734.2 364.6L736.5 363.9L738.8 364.6L738.7 365.9L737.9 366.9L736.1 367.5L735.7 368.8L734.4 370.1L733.3 371.5L731.8 371.1L732.8 369.3L731.9 368.3L730.6 367.9L731.7 366L732 364.2L731.1 362.9L730.2 361.5L729.6 359.8L728.2 358.7M728.2 369.7L729.2 370.7L730.6 371L731.1 372.1L729.5 373.9L728.4 375.4L727.2 376.4L725.6 376.6L725.1 378L724.7 379.4L723.4 380.2L722 380.8L720.3 381L718.9 380.3L716.8 379L718.1 377.4L719.6 377L720.5 375.9L722.2 374.7L724.2 374.1L725.1 373L726 371.9L727.1 370.2L728.2 369.7M122.8 256.1L123.9 256.5L123.2 256.7L122.8 256.1M475.4 184L476.8 183.7L478.2 183.1L477.2 181.3L475.4 182.2L475.4 184M266.9 216.4L268.3 216.7L269.7 217.1L271 216.5L272.4 216L272.4 214.8L271 215.2L269.6 215L268.1 215L266.9 215.9L266.9 216.4M626.7 280.2L627.9 279.2L629.5 279.1L629.9 277.6L630.9 276.4L630.5 275.7L629.8 276.9L628.8 278L627.3 278.4L626.3 279.5L626.7 280.2M635.3 273.8L637.3 275.1L636 276.2L635.3 275.1L635.3 273.8M269.7 171.6L270.9 172.6L272.4 172.3L270.6 172.9L269.7 171.6M226.7 163.4L225.2 162.1L226.6 162.1L227.6 161.2L229.1 161L229.7 159.6L231.2 159.3L232.2 160.4L233.4 161.3L234.9 161.2L234 163L232.2 164.1L230.8 163.8L229.4 164.1L228.1 163.5L226.7 163.4M168.1 192.8L170.3 193.6L170.9 195.4L169.1 194.6L168.1 192.8M185.5 155.3L187 154.9L188 153.6L189.7 153.2L191 154.2L193.2 154.3L195.2 155.3L197 154L199.2 153.9L197.8 154.3L197.4 155.7L195 155.7L192.8 156.6L190.6 157.2L188.3 156.6L187 155.8L185.5 155.3M289.4 262L290.9 261.6L292.3 262L292.3 262.7L290.9 262.7L289.4 262.7L289.4 262M236.7 157.3L237.7 156.6L238.6 157.3L236.7 157.3M141.6 185.1L143.5 184.8L144.4 185.3L143 185.6L141.6 185.1M170 196.8L171.8 197.2L172.5 198.5L172.7 200L170.9 199L170 196.8M171.1 193.4L172.7 193.7L172.2 194.6L171.3 194.3L171.1 193.4M220.3 152L221.9 150.2L224.2 149.9L225.6 150.2L226.8 149.4L228 150L228.5 151.3L230.2 152.2L232.2 152.4L230.7 152.8L230.1 154.2L228.7 154.2L227.6 153.3L226.5 152.2L224.9 152.4L223.4 152.1L222.1 152.9L220.3 152M231.2 160.3L233.1 160.1L232.2 160.6L231.2 160.3M672 211.5L673 210.2L673.3 208.7L674 207.3L674.8 206L676.6 206L675.8 204.9L674.8 204L674.2 202.8L674.2 201.4L674.8 199.6L674.2 197.8L673.3 196.3L672 197.8L671.4 199.1L671.5 200.5L671.6 202.4L672 204.2L672.1 206L672 207.8L672.1 209.2L671.9 210.6L672 211.5M639.7 272.7L641 272.9L642.2 273.7L641.9 275.5L640.6 274.9L639.7 272.7M427.7 220.4L430.1 220.8L430.5 222.4L429.9 223.9L427.9 224.3L428 223L427.7 221.7L427.7 220.4M646.4 301.5L647.7 301.9L649 301.7L650.3 301.6L651.6 301.8L650.1 302.6L648.7 302.7L647.3 302.2L646.4 301.5M586.1 151.1L588.4 151.1L590.7 151L593 150.9L595.2 151.5L597.7 151.5L599.7 150.2L602.2 150L604.4 151.1L603 150.1L601.4 150.2L599.8 149.7L598.9 148.4L596.9 147L594.4 146.8L592 146.8L589.7 147.5L588.1 148.5L586.2 148.8L584.3 149.1L582.4 149.3L584.5 149.8L586.1 151.1M342.8 394.4L344.7 394.4L346.5 394.9L346.8 395.8M654.7 235.3L656.5 234.5L658.7 233.8L657.8 232.9L655.6 233.4L654.7 235.3M435 225.9L436.4 225.4L437.9 225.2L439.3 225.9L440.9 225.6L439.9 227.4L439.8 228.5L437.3 228.2L435.2 226.8L435 225.9M237.7 163L238.6 161.2L240.4 160.3L242 160.7L243.1 161.9L244.9 161.7L245.9 160.3L246.8 161.7L245.4 162.3L244.1 161.4L242.9 162.1L242.2 163.4L241.1 164.1L239.8 164.3L239.1 163L237.7 163M253.6 177.6L254.8 176L256.9 176.2L258.8 176.6L260.5 175.6L262.5 176.3L264.2 177.6L262.6 179L260.5 178.7L259 180.4L256.9 179.8L255.6 178.9L254.1 179.1L253.6 177.6M558.3 277.7L559.2 277.7L559.6 279L560.6 279.8L561.6 280.7L562.1 281.9L561.6 284.3L559.7 284.8L558.5 283.2L558 281.9L558.1 280.6L558.1 279.1L558.3 277.7M630.7 305.7L630.9 303.4L630.9 301.1L629.9 299.2L630 297.1L630.6 295.7L631.8 294.7L633.6 293.2L635.4 294L637.3 294L638.7 293.6L640 292.9L640.9 292.7L640.3 293.9L639.1 294.7L637.7 294.9L636.4 295.5L635.1 294.8L633.6 294.7L632.3 295.6L633.7 296.2L634.5 297.4L636.2 297.4L637.8 297.1L636.6 298L635.5 298.9L634.5 301.1L635.7 302.3L636.4 303.8L634.5 304.8L633.3 303.6L632.7 302L632.6 303.8L632.7 305.7L630.7 305.7M586.6 285.4L588.6 285.9L590.6 286.1L591.8 287L592.5 288.3L593.6 288.8L594.7 289.4L595 290.7L596 291.6L598 292.5L599.5 294.4L601.6 295.6L602.6 297.2L603.5 298.9L604.6 300.2L606.2 301.1L606.7 302.4L606.8 303.7L606.6 305.1L605.8 306.2L603.5 306.4L602.9 305.1L601.8 304.2L600.6 303.7L599.4 302.9L598.1 301.7L597 300.2L596.5 298.6L595.2 297.4L594.8 295.4L593.4 293.8L592 292.4L590.6 291L588.8 290.1L587.9 288.3L587.7 286.6L586.6 285.4M630 313L631.7 312.8L633.3 313.4L632.2 314.3L631 313.7L630 313M625.9 311.2L628 311.2L630 311L629.1 311.7L627.7 312.4L626.3 312.1L625.9 311.2M244.1 210.2L245.9 210.3L247.7 210.4L249.1 210.7L250.5 210.4L251.8 210.3L253.2 210.6L255.4 210.6L257.6 210.6L256.9 208.7L255.2 208L254.1 206.5L252.2 206.6L250.5 207.3L248.6 207.8L247.3 208L246.1 208.5L245.1 209.4L244.1 210.2M431.5 150.2L433.1 150.8L434.8 150.3L436.3 149.5L437.9 149.3L439.5 148.2L441.5 147.9L443.5 147.8L445.2 148.7L447.2 148.9L448.9 149.7L450.8 149.6L452.6 148.7L455.1 148.8L457.1 150.4L459.2 149.1L461.7 149.1L459.8 149.6L458.1 150.6L456.4 151.7L454.4 152L453.5 152.9L452.6 153.9L450.4 155.1L448 154.7L445.7 155L443.4 155.7L442.1 155.1L440.7 154.7L439.3 154.3L437.9 153.9L436.4 153.7L434.9 153.9L433.4 153.3L432.4 152L431.5 150.2M632 253.5L633.1 255.4L633.6 254.1L634.8 253.4L634.7 252L635.3 250.8L634.5 249.3L633.1 250.8L632.3 252.1L632 253.5M465.7 301.8L466 303.3L466.3 304.8L467.2 306.6L468.1 308.4L468.8 309.7L469 311.2L468.3 311.7L467 310.3L466.6 308.4L466.1 307.1L465.7 305.7L465.2 304.3L465.4 302.9L465.7 301.8M676.8 370.1L678.4 370.6L680.2 370.5L681.9 370L683.6 370.4L683.6 372.8L682.1 374.8L680.7 374.7L679.4 375.4L678.3 374.4L677.9 373L677.4 371.5L676.8 370.1M639.1 312.6L640.6 312.5L642 312.5L643.5 312.2L644.6 311.2L642.9 311.6L641.9 313L640.5 313.8L639.1 314.4L639.1 312.6M177.5 202.7L178.7 203.2L180 203.6L181.5 204.3L182.8 205.3L183.9 206.5L185.5 206.9L186.8 207.1L185.5 205.4L184.3 204.3L182.8 203.8L180.9 203.4L179.1 202.5L177.5 202.7M717 322.3L718.1 324L719.2 324.7L720 325.8L720.3 327.8L719.3 326.6L718.4 325.3L718.2 323.6L717 322.3M195.6 166.7L197.4 167.6L199 169L201.1 169L202.6 169.4L203 170.8L204.2 170L205.6 170.3L206.8 171.6L208.4 171.3L210 171.2L211.1 170.1L213 170.7L214.8 169.8L216.5 169.6L217.4 168L218.7 168.9L220.3 169.2L221.7 169.7L223 169.1L224.4 169.6L225.8 168.9L227.6 167.9L226.6 166.6L224.8 166.7L226.4 167.1L227.6 166.1L226 165.9L224.8 164.8L222.9 164.1L221.2 163L219.9 162.1L218.4 161.7L216.6 161.8L214.8 161.4L213 162.6L211.7 161.9L210.2 162.4L208.8 163.1L207.5 162.3L206.2 162.5L205 163.1L203.7 162.6L202.9 161.5L201.1 162L199.2 162.1L197.4 163L195.6 164.3L194.7 165.2L196 165.7L197.4 166.1L195.6 166.7M470.5 297.4L471.7 296.4L472.7 295.1L474.5 295.2L475.4 296.5L474.5 298.4L473.6 300.2L472.2 300.4L470.8 300.2L470.3 298.4L470.5 297.4M637.3 276.4L638.2 277.3L639.1 276.4L640 275.5L640.9 274.3L640.9 272.7L640.3 275L640 277.3L638.3 278.1L636.4 278.2L637.3 276.4M232.2 203.2L233.5 202.8L234.9 202.3L234.4 201L234 199.6L233.4 198.4L232.2 197.8L234 196.8L235.8 197.8L235.8 199.6L236.2 201.1L236.2 202.7L234.2 203.3L232.2 203.2M83.1 164.8L84.9 164.9L86.8 164.7L87.7 165.4L85.9 166.1L84 165.8L83.1 164.8M70 440L73.2 440.3L76.5 440.1L79.7 440.1L83 440L89.7 441.2L96.5 441.5L103.3 441.1L110 440L113.1 439.8L116 439L119 438.2L122 438L126.5 437.4L130.9 436L135.4 435L140 435L145 434.6L150 433.6L155 433.1L160 432.4L165.5 431.8L171 431.3L176.6 431.3L182 430L186.5 430.1L191.1 430L195.5 430.7L200 431.6L205 431.8L210.1 431.4L215 432.6L220 433L220.9 431.9L221.8 430.8L222.9 429.9L224 429L226 428.6L228 428.3L230 428.1L232 428L234 428.3L236 428.4L238 428.6L240 429L245 428.7L250 428.7L255 429.2L260 429.5L262.5 429.2L265 428.9L267.5 428.9L270 429L271.9 427.8L274 427L275 425.5L276 424L278 423.7L280 423L281.5 422.9L283 422.6L284.5 422.4L286 422L287 420.5L288 419L289.8 418.1L291.6 417.1L293.3 416L295 415L296.6 414L298.4 413.2L300.2 412.5L302 412L303.3 412.1L304.5 412.4L305.7 412.5L307 412.5L305 413.8L303 415L302.5 416.2L302 417.5L301.6 418.8L301 420L301 422.3L301.4 424.5L301.8 426.7L302 429L301.5 431L301 433L303.2 433.6L305.5 433.8L307.7 434.6L310 435L312.5 435.6L315.1 435.7L317.6 436.2L320 437L322.5 437.3L325.1 437.7L327.5 438.6L330 439L332.5 438.5L335 438.5L337.5 438L340 438L344.4 437.5L348.7 436.9L353.1 436.6L357.5 436.2L362.1 435L366.3 432.9L370.8 431.4L375 429.2L379.3 427.9L383.5 426.5L388.1 426.6L392.5 425.8L396.9 424.8L401.2 423.9L405.6 423.3L410 422.6L411.7 423.5L413.5 424L417 423.8L420.5 423.4L424 423.4L427.5 423.6L430.1 423.3L432.8 423.2L435.4 422.9L438 422.6L442.4 423L446.8 423.7L451.1 424.8L455.5 424.9L459.9 424.1L464.2 422.9L468.6 422.5L473 421.9L474.8 422.3L476.4 423.1L478.2 423.2L480 423.4L483.4 422.3L486.9 421.3L490.5 420.7L494 419.9L497.3 419.3L500.7 418.6L504 417.8L507.1 416.4L509.1 416.9L511.1 416.9L513.1 417.5L515 418.1L519.4 418L523.8 418.1L528.1 419.1L532.5 419.9L536.3 421.4L540.3 421.9L544.3 422.1L548.2 422.5L550 422L551.7 421.6L553.5 421.3L555.2 420.8L556.8 419.6L558.6 418.6L560.4 417.9L562.2 417.2L564.9 417.4L567.5 416.9L570.1 417.1L572.8 416.9L574.1 417.2L575.4 417.5L576.7 417.7L578 418.1L580.3 417.9L582.4 417.2L584.6 416.6L586.8 415.9L590.7 415.8L594.6 415.1L598.5 415.9L602.5 415.9L604.7 416.6L607 417L609.1 417.8L611.2 418.6L615.4 418.6L619.4 419.3L623.4 418.5L627.5 418.1L631.9 418.1L636.3 418L640.6 417.5L645 416.9L648.9 416.2L652.9 416L656.8 415.9L660.8 416.4L665.6 417.2L670.4 417.8L675.2 419L680 419.9L684.4 420.5L688.8 421.3L693 422.9L697.5 423.4L700.5 424.3L703.6 425L706.7 425.1L709.8 426L713.2 426.5L716.7 427.1L720.2 427.7L723.8 427.8L721.5 429.2L719.1 430.5L717 432.1L715 433.9L713.7 434.6L712.3 435L711 435.8L709.8 436.5L711 437.1L712.4 437.4L713.7 437.8L715 438.2L721.5 439.1L728.1 439.4L734.7 438.8L741.2 439.1L745.9 439.6L750.6 440.1L755.3 440.1L760 440" fill="none" stroke="#000" stroke-width="1.1" stroke-linejoin="round"/>
</g>
<rect x="83.1" y="131" width="658.4" height="329.3" fill="none" stroke="#555" stroke-width="1.4"/>
<path d="M101.4 131v3.7M101.4 460.3v-3.7M119.7 131v3.7M119.7 460.3v-3.7M138 131v3.7M138 460.3v-3.7M156.3 131v3.7M156.3 460.3v-3.7M174.6 131v3.7M174.6 460.3v-3.7M192.8 131v7M192.8 460.3v-7M211.1 131v3.7M211.1 460.3v-3.7M229.4 131v3.7M229.4 460.3v-3.7M247.7 131v3.7M247.7 460.3v-3.7M266 131v3.7M266 460.3v-3.7M284.3 131v3.7M284.3 460.3v-3.7M302.6 131v7M302.6 460.3v-7M320.9 131v3.7M320.9 460.3v-3.7M339.2 131v3.7M339.2 460.3v-3.7M357.4 131v3.7M357.4 460.3v-3.7M375.7 131v3.7M375.7 460.3v-3.7M394 131v3.7M394 460.3v-3.7M412.3 131v7M412.3 460.3v-7M430.6 131v3.7M430.6 460.3v-3.7M448.9 131v3.7M448.9 460.3v-3.7M467.2 131v3.7M467.2 460.3v-3.7M485.5 131v3.7M485.5 460.3v-3.7M503.8 131v3.7M503.8 460.3v-3.7M522.1 131v7M522.1 460.3v-7M540.4 131v3.7M540.4 460.3v-3.7M558.6 131v3.7M558.6 460.3v-3.7M576.9 131v3.7M576.9 460.3v-3.7M595.2 131v3.7M595.2 460.3v-3.7M613.5 131v3.7M613.5 460.3v-3.7M631.8 131v7M631.8 460.3v-7M650.1 131v3.7M650.1 460.3v-3.7M668.4 131v3.7M668.4 460.3v-3.7M686.7 131v3.7M686.7 460.3v-3.7M705 131v3.7M705 460.3v-3.7M723.2 131v3.7M723.2 460.3v-3.7M83.1 149.3h7.5M741.5 149.3h-7.5M83.1 167.6h3.7M741.5 167.6h-3.7M83.1 185.9h3.7M741.5 185.9h-3.7M83.1 204.2h3.7M741.5 204.2h-3.7M83.1 222.4h7.5M741.5 222.4h-7.5M83.1 240.7h3.7M741.5 240.7h-3.7M83.1 259h3.7M741.5 259h-3.7M83.1 277.3h3.7M741.5 277.3h-3.7M83.1 295.6h7.5M741.5 295.6h-7.5M83.1 313.9h3.7M741.5 313.9h-3.7M83.1 332.2h3.7M741.5 332.2h-3.7M83.1 350.5h3.7M741.5 350.5h-3.7M83.1 368.8h7.5M741.5 368.8h-7.5M83.1 387.1h3.7M741.5 387.1h-3.7M83.1 405.3h3.7M741.5 405.3h-3.7M83.1 423.6h3.7M741.5 423.6h-3.7M83.1 441.9h7.5M741.5 441.9h-7.5" stroke="#333" stroke-width="1.1" fill="none"/>
<g font-family="Liberation Serif, Times New Roman, serif" fill="#000">
<text transform="translate(178.59 82.70) scale(0.9328 1)" font-size="33.54" stroke="#000" stroke-width="0.91">Velocity Potential at 200 hPa (km2/s)</text>
<text transform="translate(189.89 108.30) scale(0.9644 1)" font-size="16.09" stroke="#000" stroke-width="0.57">rmsd= 0.83049 diff= 4.65077e-05</text>
<text transform="translate(82.58 126.80) scale(0.9652 1)" font-size="18.00" stroke="#000" stroke-width="0.57">Expt = teVtr1-teIxr</text>
<text transform="translate(321.30 120.60) scale(0.9694 1)" font-size="18.05" stroke="#000" stroke-width="0.57">0492kyr BP - 0492kyr BP</text>
<text transform="translate(704.23 123.70) scale(0.9536 1)" font-size="18.32" stroke="#000" stroke-width="0.58">ANN</text>
<text transform="translate(47.67 154.59) scale(0.9312 1)" font-size="16.00" stroke="#000" stroke-width="0.59">80N</text>
<text transform="translate(47.67 227.75) scale(0.9312 1)" font-size="16.00" stroke="#000" stroke-width="0.59">40N</text>
<text transform="translate(66.15 300.91) scale(0.9312 1)" font-size="16.00" stroke="#000" stroke-width="0.59">0</text>
<text transform="translate(50.72 374.07) scale(0.9313 1)" font-size="16.00" stroke="#000" stroke-width="0.59">40S</text>
<text transform="translate(50.72 447.23) scale(0.9313 1)" font-size="16.00" stroke="#000" stroke-width="0.59">80S</text>
<text transform="translate(71.55 480.80) scale(0.9313 1)" font-size="16.00" stroke="#000" stroke-width="0.59">180</text>
<text transform="translate(173.99 480.80) scale(0.9312 1)" font-size="16.00" stroke="#000" stroke-width="0.59">120W</text>
<text transform="translate(287.79 480.80) scale(0.9313 1)" font-size="16.00" stroke="#000" stroke-width="0.59">60W</text>
<text transform="translate(408.59 480.80) scale(0.9313 1)" font-size="16.00" stroke="#000" stroke-width="0.59">0</text>
<text transform="translate(510.10 480.80) scale(0.9312 1)" font-size="16.00" stroke="#000" stroke-width="0.59">60E</text>
<text transform="translate(615.78 480.80) scale(0.9313 1)" font-size="16.00" stroke="#000" stroke-width="0.59">120E</text>
<text transform="translate(729.99 480.80) scale(0.9313 1)" font-size="16.00" stroke="#000" stroke-width="0.59">180</text>
<text transform="translate(136.34 532.00) scale(0.9897 1)" font-size="19.40" stroke="#000" stroke-width="0.56">-4</text>
<text transform="translate(196.22 532.00) scale(0.9897 1)" font-size="19.40" stroke="#000" stroke-width="0.56">-2</text>
<text transform="translate(255.77 532.00) scale(0.9897 1)" font-size="19.40" stroke="#000" stroke-width="0.56">-1</text>
<text transform="translate(307.83 532.00) scale(0.9897 1)" font-size="19.40" stroke="#000" stroke-width="0.56">-0.5</text>
<text transform="translate(367.52 532.00) scale(0.9897 1)" font-size="19.40" stroke="#000" stroke-width="0.56">-0.2</text>
<text transform="translate(430.14 532.00) scale(0.9897 1)" font-size="19.40" stroke="#000" stroke-width="0.56">0.2</text>
<text transform="translate(489.50 532.00) scale(0.9897 1)" font-size="19.40" stroke="#000" stroke-width="0.56">0.5</text>
<text transform="translate(555.91 532.00) scale(0.9897 1)" font-size="19.40" stroke="#000" stroke-width="0.56">1</text>
<text transform="translate(615.80 532.00) scale(0.9897 1)" font-size="19.40" stroke="#000" stroke-width="0.56">2</text>
<text transform="translate(675.15 532.00) scale(0.9897 1)" font-size="19.40" stroke="#000" stroke-width="0.56">4</text>
</g>
<rect x="85" y="503.4" width="59.5" height="12" fill="#7c00e6" stroke="#222" stroke-width="1"/>
<rect x="144.5" y="503.4" width="59.5" height="12" fill="#2a1ad2" stroke="#222" stroke-width="1"/>
<rect x="204" y="503.4" width="59.5" height="12" fill="#0f80dc" stroke="#222" stroke-width="1"/>
<rect x="263.5" y="503.4" width="59.5" height="12" fill="#00bedf" stroke="#222" stroke-width="1"/>
<rect x="323" y="503.4" width="59.5" height="12" fill="#00d8c0" stroke="#222" stroke-width="1"/>
<rect x="382.5" y="503.4" width="59.5" height="12" fill="#e6e6e6" stroke="#222" stroke-width="1"/>
<rect x="442" y="503.4" width="59.5" height="12" fill="#bcd800" stroke="#222" stroke-width="1"/>
<rect x="501.5" y="503.4" width="59.5" height="12" fill="#e0b000" stroke="#222" stroke-width="1"/>
<rect x="561" y="503.4" width="59.5" height="12" fill="#e07000" stroke="#222" stroke-width="1"/>
<rect x="620.5" y="503.4" width="59.5" height="12" fill="#e04000" stroke="#222" stroke-width="1"/>
<rect x="680" y="503.4" width="59.5" height="12" fill="#dc0000" stroke="#222" stroke-width="1"/>
</svg>
</body></html>
